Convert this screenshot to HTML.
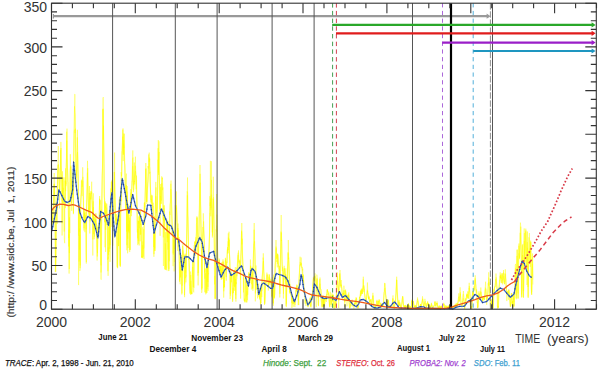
<!DOCTYPE html><html><head><meta charset="utf-8"><style>
html,body{margin:0;padding:0;background:#fff;width:600px;height:372px;overflow:hidden}
svg{display:block}
text{font-family:"Liberation Sans",sans-serif}
</style></head><body>
<svg width="600" height="372" viewBox="0 0 600 372">
<path d="M52.0,230.1 52.3,210.5 52.7,224.4 53.0,214.9 53.4,209.3 53.7,196.1 54.1,192.3 54.4,183.7 54.8,194.0 55.1,208.9 55.5,269.2 55.8,271.6 56.1,235.4 56.5,205.8 56.8,204.7 57.2,223.9 57.5,179.1 57.9,165.8 58.2,164.9 58.6,167.2 58.9,169.1 59.2,188.0 59.6,208.5 59.9,185.9 60.3,172.3 60.6,154.6 61.0,148.0 61.3,173.6 61.7,177.0 62.0,201.3 62.4,190.2 62.7,203.2 63.0,177.1 63.4,188.9 63.7,197.2 64.1,199.5 64.4,203.2 64.8,203.3 65.1,180.5 65.5,191.1 65.8,190.5 66.1,170.3 66.5,157.9 66.8,140.6 67.2,157.9 67.5,168.1 67.9,184.7 68.2,191.8 68.6,238.0 68.9,229.6 69.3,269.0 69.6,200.8 69.9,191.9 70.3,154.2 70.6,168.2 71.0,167.7 71.3,190.4 71.7,210.9 72.0,181.2 72.4,185.3 72.7,185.1 73.0,203.0 73.4,214.2 73.7,156.5 74.1,131.6 74.4,129.7 74.8,130.3 75.1,133.1 75.5,128.7 75.8,156.8 76.2,172.6 76.5,175.9 76.8,168.1 77.2,154.9 77.5,152.1 77.9,162.4 78.2,181.3 78.6,285.1 78.9,203.2 79.3,249.7 79.6,228.6 79.9,270.9 80.3,266.9 80.6,210.1 81.0,195.4 81.3,194.2 81.7,190.8 82.0,186.3 82.4,185.4 82.7,167.3 83.1,184.6 83.4,200.3 83.7,215.0 84.1,219.9 84.4,213.2 84.8,220.1 85.1,211.3 85.5,217.8 85.8,219.2 86.2,229.3 86.5,211.9 86.8,202.4 87.2,180.4 87.5,160.8 87.9,185.6 88.2,199.5 88.6,212.2 88.9,207.8 89.3,214.5 89.6,214.1 90.0,217.6 90.3,197.5 90.6,199.4 91.0,191.4 91.3,194.0 91.7,181.7 92.0,200.3 92.4,210.2 92.7,216.9 93.1,214.8 93.4,207.2 93.7,222.4 94.1,216.9 94.4,236.7 94.8,224.6 95.1,218.8 95.5,228.9 95.8,213.5 96.2,228.1 96.5,223.7 96.9,247.0 97.2,249.6 97.5,253.2 97.9,228.7 98.2,230.9 98.6,235.3 98.9,225.4 99.3,215.4 99.6,196.0 100.0,207.8 100.3,214.0 100.6,237.0 101.0,272.5 101.3,267.1 101.7,205.5 102.0,190.0 102.4,173.9 102.7,150.6 103.1,108.7 103.4,118.5 103.8,150.5 104.1,182.9 104.4,197.4 104.8,222.3 105.1,205.5 105.5,206.8 105.8,208.1 106.2,206.2 106.5,203.5 106.9,203.5 107.2,211.0 107.5,219.9 107.9,271.2 108.2,247.4 108.6,254.9 108.9,221.6 109.3,221.6 109.6,211.0 110.0,261.9 110.3,245.7 110.7,199.3 111.0,193.0 111.3,181.8 111.7,189.7 112.0,206.7 112.4,179.6 112.7,226.7 113.1,215.6 113.4,229.9 113.8,217.7 114.1,198.2 114.4,172.1 114.8,189.4 115.1,200.8 115.5,220.6 115.8,218.8 116.2,220.6 116.5,214.2 116.9,235.6 117.2,266.9 117.6,266.1 117.9,236.6 118.2,228.0 118.6,227.0 118.9,208.3 119.3,199.6 119.6,224.9 120.0,231.9 120.3,267.0 120.7,206.1 121.0,190.1 121.3,179.8 121.7,172.4 122.0,147.6 122.4,142.2 122.7,136.6 123.1,152.5 123.4,153.8 123.8,133.4 124.1,145.4 124.5,163.2 124.8,164.7 125.1,178.8 125.5,193.4 125.8,208.9 126.2,185.3 126.5,198.3 126.9,245.2 127.2,186.1 127.6,253.3 127.9,249.6 128.2,224.1 128.6,230.9 128.9,216.5 129.3,214.8 129.6,225.0 130.0,250.0 130.3,213.9 130.7,206.1 131.0,202.0 131.4,216.2 131.7,188.8 132.0,180.9 132.4,181.3 132.7,166.2 133.1,174.8 133.4,192.2 133.8,189.4 134.1,180.3 134.5,176.1 134.8,176.1 135.1,173.2 135.5,171.2 135.8,180.9 136.2,189.3 136.5,175.6 136.9,201.1 137.2,232.4 137.6,232.3 137.9,229.0 138.3,241.1 138.6,221.1 138.9,223.7 139.3,217.1 139.6,212.9 140.0,219.2 140.3,215.3 140.7,225.0 141.0,224.2 141.4,238.5 141.7,256.7 142.0,257.7 142.4,256.7 142.7,227.2 143.1,256.6 143.4,252.8 143.8,246.4 144.1,226.7 144.5,206.0 144.8,213.2 145.2,200.4 145.5,183.4 145.8,163.0 146.2,176.6 146.5,191.6 146.9,201.9 147.2,196.1 147.6,183.3 147.9,181.6 148.3,176.2 148.6,166.9 148.9,165.6 149.3,157.5 149.6,173.6 150.0,171.8 150.3,188.0 150.7,194.9 151.0,203.5 151.4,196.6 151.7,194.8 152.1,205.9 152.4,195.5 152.7,207.6 153.1,206.4 153.4,221.0 153.8,247.0 154.1,233.8 154.5,216.4 154.8,250.8 155.2,213.7 155.5,197.5 155.8,181.9 156.2,199.0 156.5,213.2 156.9,220.1 157.2,212.0 157.6,195.3 157.9,168.7 158.3,140.0 158.6,174.9 159.0,141.3 159.3,175.5 159.6,183.8 160.0,210.9 160.3,202.4 160.7,184.0 161.0,195.1 161.4,200.6 161.7,176.3 162.1,179.3 162.4,178.2 162.7,189.1 163.1,206.2 163.4,266.0 163.8,216.6 164.1,205.1 164.5,225.2 164.8,238.2 165.2,257.1 165.5,266.9 165.9,266.9 166.2,267.6 166.5,267.4 166.9,219.7 167.2,238.2 167.6,221.8 167.9,221.1 168.3,250.6 168.6,260.2 169.0,270.9 169.3,253.5 169.6,211.5 170.0,215.0 170.3,205.9 170.7,197.2 171.0,180.5 171.4,198.7 171.7,213.7 172.1,222.3 172.4,227.6 172.8,234.7 173.1,266.2 173.4,236.2 173.8,235.5 174.1,271.4 174.5,263.7 174.8,234.3 175.2,222.8 175.5,219.4 175.9,210.5 176.2,208.6 176.5,205.3 176.9,215.0 177.2,231.2 177.6,243.4 177.9,228.1 178.3,238.5 178.6,244.5 179.0,237.3 179.3,268.1 179.7,280.5 180.0,277.2 180.3,266.6 180.7,276.9 181.0,254.8 181.4,268.1 181.7,261.0 182.1,285.7 182.4,255.5 182.8,244.1 183.1,249.2 183.4,250.7 183.8,257.2 184.1,255.2 184.5,295.2 184.8,279.7 185.2,253.6 185.5,274.1 185.9,282.4 186.2,278.5 186.6,240.8 186.9,226.4 187.2,191.4 187.6,193.6 187.9,219.4 188.3,234.7 188.6,259.8 189.0,258.8 189.3,262.8 189.7,288.7 190.0,290.1 190.3,293.0 190.7,275.0 191.0,291.9 191.4,291.6 191.7,294.1 192.1,283.9 192.4,268.3 192.8,259.9 193.1,267.9 193.5,291.4 193.8,292.4 194.1,245.4 194.5,246.4 194.8,249.6 195.2,250.9 195.5,249.5 195.9,237.2 196.2,244.0 196.6,227.1 196.9,216.3 197.2,225.7 197.6,234.6 197.9,275.6 198.3,269.4 198.6,244.4 199.0,231.8 199.3,208.0 199.7,185.4 200.0,165.0 200.4,201.5 200.7,209.0 201.0,231.9 201.4,242.6 201.7,292.9 202.1,290.1 202.4,243.5 202.8,234.2 203.1,229.6 203.5,230.7 203.8,234.1 204.1,240.5 204.5,262.5 204.8,278.7 205.2,273.2 205.5,279.5 205.9,292.6 206.2,289.3 206.6,275.4 206.9,266.1 207.3,272.0 207.6,265.0 207.9,286.9 208.3,273.5 208.6,274.2 209.0,252.5 209.3,247.5 209.7,213.7 210.0,214.1 210.4,160.8 210.7,204.5 211.0,208.1 211.4,161.2 211.7,190.0 212.1,212.5 212.4,237.5 212.8,213.3 213.1,198.9 213.5,200.5 213.8,212.1 214.2,237.2 214.5,284.4 214.8,275.9 215.2,299.0 215.5,267.8 215.9,247.4 216.2,237.5 216.6,225.6 216.9,228.4 217.3,229.8 217.6,250.9 217.9,265.2 218.3,262.9 218.6,262.0 219.0,265.8 219.3,260.3 219.7,273.3 220.0,266.4 220.4,270.7 220.7,266.2 221.1,273.4 221.4,274.6 221.7,265.8 222.1,273.2 222.4,271.9 222.8,267.9 223.1,261.3 223.5,282.8 223.8,291.3 224.2,284.1 224.5,287.1 224.8,270.1 225.2,266.2 225.5,257.8 225.9,265.5 226.2,277.1 226.6,267.4 226.9,258.4 227.3,250.7 227.6,248.8 228.0,252.9 228.3,233.3 228.6,245.8 229.0,231.7 229.3,250.3 229.7,258.1 230.0,268.0 230.4,295.7 230.7,282.5 231.1,272.5 231.4,282.3 231.7,274.1 232.1,282.5 232.4,293.4 232.8,293.5 233.1,288.0 233.5,293.0 233.8,270.2 234.2,286.1 234.5,271.3 234.9,269.8 235.2,271.6 235.5,284.0 235.9,301.6 236.2,281.4 236.6,270.0 236.9,276.2 237.3,264.1 237.6,261.0 238.0,253.8 238.3,252.7 238.6,262.4 239.0,260.7 239.3,259.7 239.7,262.7 240.0,260.4 240.4,265.6 240.7,262.5 241.1,252.9 241.4,237.7 241.8,223.0 242.1,235.4 242.4,254.1 242.8,263.7 243.1,267.3 243.5,292.4 243.8,277.3 244.2,301.0 244.5,299.6 244.9,301.1 245.2,300.5 245.5,297.5 245.9,278.3 246.2,277.7 246.6,302.2 246.9,290.9 247.3,299.9 247.6,300.2 248.0,281.7 248.3,283.6 248.7,275.8 249.0,273.2 249.3,278.6 249.7,280.9 250.0,282.9 250.4,259.5 250.7,266.9 251.1,279.1 251.4,289.4 251.8,288.4 252.1,278.8 252.4,272.4 252.8,288.5 253.1,266.7 253.5,252.0 253.8,250.1 254.2,223.0 254.5,246.2 254.9,250.2 255.2,267.4 255.6,272.3 255.9,273.0 256.2,279.4 256.6,285.3 256.9,284.3 257.3,283.9 257.6,298.4 258.0,283.4 258.3,286.5 258.7,292.5 259.0,296.9 259.3,291.1 259.7,298.7 260.0,289.4 260.4,304.5 260.7,303.2 261.1,296.8 261.4,284.5 261.8,297.1 262.1,280.2 262.5,272.3 262.8,269.6 263.1,257.6 263.5,260.7 263.8,273.2 264.2,278.2 264.5,304.6 264.9,302.6 265.2,293.9 265.6,286.6 265.9,286.4 266.2,279.1 266.6,277.5 266.9,272.6 267.3,277.2 267.6,280.5 268.0,282.0 268.3,290.6 268.7,285.6 269.0,277.4 269.4,275.0 269.7,283.7 270.0,280.7 270.4,282.5 270.7,281.3 271.1,283.1 271.4,287.3 271.8,297.4 272.1,283.3 272.5,281.1 272.8,296.2 273.1,303.5 273.5,298.2 273.8,280.6 274.2,281.5 274.5,298.5 274.9,285.4 275.2,265.1 275.6,260.9 275.9,251.3 276.3,248.3 276.6,259.2 276.9,255.2 277.3,267.4 277.6,254.0 278.0,255.6 278.3,261.9 278.7,266.7 279.0,265.8 279.4,269.3 279.7,270.7 280.0,286.8 280.4,258.8 280.7,251.4 281.1,238.1 281.4,232.6 281.8,243.1 282.1,264.5 282.5,270.9 282.8,272.8 283.2,273.6 283.5,293.8 283.8,270.8 284.2,265.8 284.5,270.7 284.9,275.1 285.2,279.4 285.6,274.5 285.9,286.4 286.3,307.1 286.6,287.5 286.9,276.4 287.3,278.9 287.6,266.8 288.0,260.5 288.3,240.0 288.7,259.4 289.0,266.1 289.4,278.5 289.7,279.5 290.1,289.3 290.4,294.1 290.7,294.0 291.1,295.7 291.4,292.8 291.8,303.1 292.1,296.7 292.5,297.8 292.8,301.2 293.2,306.8 293.5,299.1 293.8,299.9 294.2,300.5 294.5,304.7 294.9,307.0 295.2,301.7 295.6,297.5 295.9,290.9 296.3,289.8 296.6,290.0 297.0,285.3 297.3,289.2 297.6,289.8 298.0,291.4 298.3,300.3 298.7,292.9 299.0,281.0 299.4,272.5 299.7,265.8 300.1,256.7 300.4,266.3 300.7,265.8 301.1,265.1 301.4,262.8 301.8,267.8 302.1,267.2 302.5,270.5 302.8,268.7 303.2,282.2 303.5,275.2 303.9,293.3 304.2,291.0 304.5,289.2 304.9,291.4 305.2,299.4 305.6,302.6 305.9,306.0 306.3,298.8 306.6,300.7 307.0,302.6 307.3,304.6 307.6,305.5 308.0,307.2 308.3,306.6 308.7,304.4 309.0,302.4 309.4,301.1 309.7,303.7 310.1,300.9 310.4,298.7 310.8,305.9 311.1,305.6 311.4,293.5 311.8,298.6 312.1,297.0 312.5,299.6 312.8,284.2 313.2,283.4 313.5,278.6 313.9,278.4 314.2,281.1 314.5,280.1 314.9,275.7 315.2,279.5 315.6,280.5 315.9,282.5 316.3,289.5 316.6,291.1 317.0,278.3 317.3,282.0 317.7,285.0 318.0,298.8 318.3,305.3 318.7,292.1 319.0,291.4 319.4,288.8 319.7,283.5 320.1,283.8 320.4,287.9 320.8,290.6 321.1,294.8 321.4,303.5 321.8,305.0 322.1,306.4 322.5,300.0 322.8,297.9 323.2,303.8 323.5,306.3 323.9,297.2 324.2,305.7 324.6,304.3 324.9,303.3 325.2,295.7 325.6,298.4 325.9,298.3 326.3,297.7 326.6,299.3 327.0,293.2 327.3,289.5 327.7,292.9 328.0,294.2 328.3,295.1 328.7,292.8 329.0,299.6 329.4,302.3 329.7,305.2 330.1,301.1 330.4,295.6 330.8,300.0 331.1,304.6 331.5,302.3 331.8,296.4 332.1,293.2 332.5,302.5 332.8,295.0 333.2,294.6 333.5,300.3 333.9,308.1 334.2,307.1 334.6,305.9 334.9,300.8 335.2,303.9 335.6,306.8 335.9,305.3 336.3,297.7 336.6,291.4 337.0,283.3 337.3,283.2 337.7,281.3 338.0,284.1 338.4,288.5 338.7,308.0 339.0,287.6 339.4,284.7 339.7,274.2 340.1,277.4 340.4,279.7 340.8,286.3 341.1,284.4 341.5,287.2 341.8,289.6 342.1,293.1 342.5,295.1 342.8,296.1 343.2,293.0 343.5,294.7 343.9,285.7 344.2,289.3 344.6,296.0 344.9,301.4 345.3,297.7 345.6,289.5 345.9,293.3 346.3,300.9 346.6,294.8 347.0,306.4 347.3,299.3 347.7,295.1 348.0,297.2 348.4,296.1 348.7,298.5 349.0,300.7 349.4,306.3 349.7,307.6 350.1,308.2 350.4,305.1 350.8,302.5 351.1,301.2 351.5,301.6 351.8,301.9 352.2,299.5 352.5,304.4 352.8,306.6 353.2,305.2 353.5,305.2 353.9,308.8 354.2,306.3 354.6,302.5 354.9,302.6 355.3,302.1 355.6,303.9 355.9,297.5 356.3,298.8 356.6,298.4 357.0,306.7 357.3,307.0 357.7,308.1 358.0,308.1 358.4,305.7 358.7,304.0 359.1,300.6 359.4,301.2 359.7,297.3 360.1,297.3 360.4,290.8 360.8,293.5 361.1,291.2 361.5,294.5 361.8,294.1 362.2,290.2 362.5,291.2 362.8,288.7 363.2,279.4 363.5,284.5 363.9,291.9 364.2,288.7 364.6,295.1 364.9,297.9 365.3,299.1 365.6,299.8 366.0,298.8 366.3,304.3 366.6,296.0 367.0,292.8 367.3,289.8 367.7,292.7 368.0,293.0 368.4,298.0 368.7,298.6 369.1,297.4 369.4,301.5 369.7,302.3 370.1,301.9 370.4,299.6 370.8,299.1 371.1,301.8 371.5,306.6 371.8,305.8 372.2,301.2 372.5,297.6 372.9,292.8 373.2,298.0 373.5,302.4 373.9,306.1 374.2,306.2 374.6,306.9 374.9,306.5 375.3,305.7 375.6,308.1 376.0,307.7 376.3,304.5 376.6,304.0 377.0,299.8 377.3,302.7 377.7,305.6 378.0,304.1 378.4,301.3 378.7,302.3 379.1,300.6 379.4,301.7 379.8,302.2 380.1,307.1 380.4,305.4 380.8,302.9 381.1,306.2 381.5,307.4 381.8,306.4 382.2,305.1 382.5,306.0 382.9,303.5 383.2,305.9 383.5,301.2 383.9,295.0 384.2,292.3 384.6,282.9 384.9,287.2 385.3,287.7 385.6,294.0 386.0,297.6 386.3,299.7 386.7,301.1 387.0,302.4 387.3,304.4 387.7,303.9 388.0,300.5 388.4,299.9 388.7,306.1 389.1,306.4 389.4,306.2 389.8,308.0 390.1,307.1 390.4,305.6 390.8,305.7 391.1,306.4 391.5,306.7 391.8,305.9 392.2,303.6 392.5,303.3 392.9,298.0 393.2,303.0 393.6,306.0 393.9,305.8 394.2,306.0 394.6,304.7 394.9,300.6 395.3,302.0 395.6,300.9 396.0,292.9 396.3,286.2 396.7,276.7 397.0,287.1 397.3,292.9 397.7,301.0 398.0,303.6 398.4,306.3 398.7,302.1 399.1,302.0 399.4,304.5 399.8,306.1 400.1,304.8 400.5,307.4 400.8,306.0 401.1,306.3 401.5,305.7 401.8,304.2 402.2,302.4 402.5,296.0 402.9,297.3 403.2,303.6 403.6,305.3 403.9,306.0 404.2,306.4 404.6,305.8 404.9,308.8 405.3,305.8 405.6,307.4 406.0,306.4 406.3,308.4 406.7,306.7 407.0,307.0 407.4,306.2 407.7,305.1 408.0,307.4 408.4,303.1 408.7,305.9 409.1,308.7 409.4,305.5 409.8,305.9 410.1,307.2 410.5,307.3 410.8,308.8 411.1,307.7 411.5,305.3 411.8,300.4 412.2,305.7 412.5,304.7 412.9,301.7 413.2,301.4 413.6,303.3 413.9,306.4 414.3,306.8 414.6,306.1 414.9,305.8 415.3,308.1 415.6,305.6 416.0,306.0 416.3,307.9 416.7,304.9 417.0,302.3 417.4,302.1 417.7,300.8 418.0,301.6 418.4,303.8 418.7,306.6 419.1,308.1 419.4,307.0 419.8,308.2 420.1,307.0 420.5,304.1 420.8,306.3 421.2,307.1 421.5,306.0 421.8,303.1 422.2,300.9 422.5,296.3 422.9,300.1 423.2,303.2 423.6,305.6 423.9,306.8 424.3,304.8 424.6,301.8 424.9,298.8 425.3,301.4 425.6,304.4 426.0,306.8 426.3,307.9 426.7,304.9 427.0,303.9 427.4,302.3 427.7,303.6 428.1,303.9 428.4,304.7 428.7,304.1 429.1,306.6 429.4,306.3 429.8,308.0 430.1,308.4 430.5,306.3 430.8,307.6 431.2,305.5 431.5,303.5 431.8,306.2 432.2,306.7 432.5,307.1 432.9,307.4 433.2,307.5 433.6,307.8 433.9,305.6 434.3,305.5 434.6,304.7 435.0,301.0 435.3,303.4 435.6,306.0 436.0,307.3 436.3,304.5 436.7,303.9 437.0,303.2 437.4,304.4 437.7,307.3 438.1,306.3 438.4,307.3 438.7,306.8 439.1,307.6 439.4,308.6 439.8,305.6 440.1,306.4 440.5,308.7 440.8,308.9 441.2,305.8 441.5,305.7 441.9,307.1 442.2,306.8 442.5,306.1 442.9,306.5 443.2,305.8 443.6,304.5 443.9,304.5 444.3,306.5 444.6,306.0 445.0,305.5 445.3,307.7 445.6,305.8 446.0,305.8 446.3,306.6 446.7,306.9 447.0,307.8 447.4,307.2 447.7,308.9 448.1,305.7 448.4,305.8 448.8,308.1 449.1,305.7 449.4,308.9 449.8,308.8 450.1,304.7 450.5,304.8 450.8,306.0 451.2,307.2 451.5,307.1 451.9,306.9 452.2,307.5 452.5,308.7 452.9,308.8 453.2,306.4 453.6,306.0 453.9,306.0 454.3,308.5 454.6,305.0 455.0,306.9 455.3,306.9 455.7,305.2 456.0,304.3 456.3,306.6 456.7,306.5 457.0,302.8 457.4,305.3 457.7,305.8 458.1,301.2 458.4,299.3 458.8,293.3 459.1,300.4 459.4,301.2 459.8,296.2 460.1,287.3 460.5,296.0 460.8,299.5 461.2,305.1 461.5,306.5 461.9,307.6 462.2,306.8 462.6,301.1 462.9,300.7 463.2,298.3 463.6,298.8 463.9,301.6 464.3,303.3 464.6,308.7 465.0,305.6 465.3,305.3 465.7,299.5 466.0,301.4 466.3,298.0 466.7,293.6 467.0,295.8 467.4,294.6 467.7,294.5 468.1,298.5 468.4,294.8 468.8,290.7 469.1,287.9 469.5,289.5 469.8,292.3 470.1,296.8 470.5,306.8 470.8,306.3 471.2,306.6 471.5,308.4 471.9,308.4 472.2,297.1 472.6,290.9 472.9,295.5 473.2,299.1 473.6,291.2 473.9,287.9 474.3,290.0 474.6,284.9 475.0,278.2 475.3,278.7 475.7,285.1 476.0,289.3 476.4,290.9 476.7,291.2 477.0,297.6 477.4,301.4 477.7,307.4 478.1,307.3 478.4,297.0 478.8,296.1 479.1,294.8 479.5,293.7 479.8,297.7 480.1,294.7 480.5,293.9 480.8,287.5 481.2,294.6 481.5,296.5 481.9,297.1 482.2,296.6 482.6,301.8 482.9,300.8 483.3,298.4 483.6,297.7 483.9,299.7 484.3,299.8 484.6,298.5 485.0,294.9 485.3,287.6 485.7,288.5 486.0,289.7 486.4,295.3 486.7,304.9 487.0,298.7 487.4,297.5 487.7,294.9 488.1,288.5 488.4,284.8 488.8,277.5 489.1,281.9 489.5,286.3 489.8,293.8 490.2,299.0 490.5,306.2 490.8,306.9 491.2,302.3 491.5,305.9 491.9,300.9 492.2,306.6 492.6,307.4 492.9,308.5 493.3,306.3 493.6,300.1 493.9,290.6 494.3,291.1 494.6,286.8 495.0,286.6 495.3,287.1 495.7,279.5 496.0,273.5 496.4,280.3 496.7,284.8 497.1,288.5 497.4,307.2 497.7,307.1 498.1,306.7 498.4,308.1 498.8,299.0 499.1,287.2 499.5,284.1 499.8,279.1 500.2,272.3 500.5,278.2 500.8,276.9 501.2,278.2 501.5,278.9 501.9,274.7 502.2,273.4 502.6,284.4 502.9,281.8 503.3,275.4 503.6,270.0 504.0,281.1 504.3,282.0 504.6,282.2 505.0,277.8 505.3,269.3 505.7,275.6 506.0,283.8 506.4,289.5 506.7,293.4 507.1,291.4 507.4,291.3 507.7,291.7 508.1,296.4 508.4,299.8 508.8,289.3 509.1,295.2 509.5,295.5 509.8,296.3 510.2,303.4 510.5,305.7 510.9,303.2 511.2,297.2 511.5,295.2 511.9,298.3 512.2,303.8 512.6,301.0 512.9,307.3 513.3,299.3 513.6,295.0 514.0,302.2 514.3,296.3 514.6,291.8 515.0,285.7 515.3,270.6 515.7,267.8 516.0,292.7 516.4,295.5 516.7,273.9 517.1,250.0 517.4,253.2 517.8,286.4 518.1,298.5 518.4,264.5 518.8,253.4 519.1,254.7 519.5,258.3 519.8,245.3 520.2,232.8 520.5,239.8 520.9,247.6 521.2,251.8 521.5,294.5 521.9,292.4 522.2,257.7 522.6,255.1 522.9,257.5 523.3,291.1 523.6,291.0 524.0,260.4 524.3,240.9 524.7,268.7 525.0,258.3 525.3,248.1 525.7,231.5 526.0,237.3 526.4,246.8 526.7,262.3 527.1,269.2 527.4,247.8 527.8,253.4 528.1,296.8 528.4,266.8 528.8,261.8 529.1,252.9 529.5,253.6 529.8,248.5 530.2,263.8 530.5,250.9 530.9,242.2 531.2,277.1 531.6,294.5 531.9,285.3 532.2,269.7 532.6,257.2 532.9,284.5" fill="none" stroke="#ffff00" stroke-opacity="0.45" stroke-width="0.85" stroke-linejoin="bevel"/>
<path d="M52.1,229.4 52.5,216.4 52.8,219.8 53.2,215.9 53.5,204.6 53.8,190.0 54.2,173.0 54.5,193.9 54.9,206.9 55.2,216.3 55.6,267.3 55.9,254.5 56.3,219.5 56.6,219.4 56.9,193.8 57.3,190.0 57.6,182.0 58.0,160.5 58.3,146.0 58.7,162.7 59.0,179.3 59.4,190.1 59.7,190.6 60.1,183.3 60.4,171.7 60.7,150.1 61.1,162.8 61.4,174.3 61.8,175.2 62.1,235.5 62.5,171.3 62.8,192.5 63.2,187.8 63.5,192.6 63.8,194.8 64.2,231.6 64.5,207.9 64.9,196.9 65.2,188.1 65.6,168.3 65.9,186.2 66.3,164.5 66.6,153.3 67.0,128.6 67.3,168.2 67.6,169.4 68.0,177.6 68.3,200.2 68.7,246.5 69.0,234.1 69.4,253.1 69.7,216.8 70.1,186.0 70.4,168.3 70.7,166.7 71.1,169.8 71.4,203.7 71.8,192.2 72.1,179.1 72.5,187.3 72.8,182.0 73.2,171.0 73.5,213.2 73.9,153.7 74.2,132.1 74.5,106.3 74.9,112.4 75.2,114.2 75.6,135.1 75.9,160.4 76.3,168.8 76.6,177.7 77.0,153.3 77.3,137.4 77.6,147.7 78.0,173.7 78.3,183.5 78.7,235.7 79.0,207.4 79.4,231.8 79.7,211.6 80.1,268.1 80.4,233.3 80.8,205.0 81.1,189.8 81.4,180.7 81.8,190.0 82.1,196.1 82.5,189.0 82.8,180.7 83.2,188.0 83.5,206.9 83.9,230.5 84.2,222.5 84.5,212.4 84.9,232.2 85.2,214.9 85.6,215.8 85.9,252.7 86.3,263.6 86.6,206.4 87.0,199.0 87.3,185.1 87.7,168.2 88.0,182.7 88.3,192.4 88.7,213.5 89.0,208.2 89.4,192.9 89.7,215.9 90.1,221.3 90.4,193.3 90.8,199.5 91.1,198.5 91.4,194.9 91.8,192.3 92.1,198.2 92.5,212.5 92.8,255.5 93.2,201.3 93.5,234.3 93.9,215.1 94.2,239.3 94.6,228.3 94.9,222.8 95.2,216.7 95.6,215.8 95.9,213.5 96.3,228.1 96.6,237.5 97.0,227.3 97.3,256.5 97.7,245.2 98.0,227.5 98.3,226.5 98.7,234.4 99.0,225.0 99.4,207.8 99.7,199.3 100.1,200.1 100.4,213.3 100.8,263.0 101.1,265.4 101.5,209.6 101.8,213.4 102.1,175.8 102.5,167.8 102.8,109.3 103.2,139.7 103.5,125.6 103.9,159.0 104.2,195.2 104.6,202.0 104.9,222.0 105.2,201.4 105.6,251.9 105.9,215.9 106.3,225.1 106.6,204.4 107.0,218.9 107.3,224.6 107.7,259.8 108.0,257.6 108.4,258.5 108.7,256.1 109.0,228.0 109.4,211.9 109.7,228.9 110.1,245.2 110.4,220.7 110.8,188.6 111.1,188.4 111.5,195.6 111.8,191.2 112.1,188.6 112.5,200.2 112.8,245.7 113.2,217.4 113.5,227.2 113.9,205.9 114.2,192.8 114.6,152.5 114.9,189.1 115.3,205.8 115.6,223.0 115.9,224.5 116.3,217.6 116.6,228.5 117.0,248.2 117.3,267.0 117.7,267.6 118.0,215.9 118.4,230.7 118.7,246.1 119.0,243.3 119.4,207.0 119.7,215.5 120.1,265.6 120.4,223.1 120.8,200.6 121.1,172.1 121.5,176.2 121.8,151.7 122.2,150.6 122.5,145.8 122.8,129.7 123.2,161.1 123.5,143.6 123.9,148.1 124.2,133.8 124.6,161.0 124.9,168.7 125.3,184.7 125.6,195.2 125.9,199.9 126.3,185.0 126.6,231.6 127.0,197.9 127.3,191.6 127.7,238.8 128.0,225.0 128.4,204.2 128.7,215.6 129.1,233.2 129.4,220.4 129.7,252.1 130.1,232.4 130.4,217.5 130.8,189.1 131.1,201.4 131.5,192.4 131.8,186.4 132.2,174.1 132.5,158.8 132.8,150.4 133.2,171.8 133.5,190.2 133.9,185.3 134.2,180.8 134.6,182.0 134.9,176.4 135.3,165.7 135.6,170.3 136.0,176.6 136.3,194.3 136.6,196.9 137.0,204.1 137.3,216.0 137.7,238.3 138.0,220.6 138.4,243.8 138.7,216.5 139.1,219.0 139.4,228.3 139.7,211.4 140.1,241.3 140.4,228.3 140.8,234.4 141.1,215.6 141.5,257.7 141.8,256.4 142.2,256.0 142.5,258.2 142.9,241.5 143.2,245.1 143.5,248.8 143.9,247.9 144.2,209.0 144.6,202.4 144.9,207.0 145.3,190.6 145.6,180.9 146.0,168.4 146.3,182.4 146.6,201.9 147.0,197.7 147.3,189.1 147.7,185.9 148.0,166.0 148.4,168.5 148.7,154.4 149.1,161.8 149.4,161.3 149.8,158.7 150.1,181.6 150.4,185.9 150.8,197.4 151.1,202.1 151.5,198.9 151.8,204.2 152.2,206.4 152.5,205.5 152.9,205.9 153.2,202.7 153.5,234.8 153.9,256.8 154.2,228.5 154.6,225.1 154.9,251.0 155.3,225.6 155.6,195.1 156.0,187.4 156.3,213.1 156.7,211.7 157.0,209.5 157.3,208.3 157.7,179.0 158.0,159.7 158.4,172.4 158.7,160.9 159.1,151.9 159.4,177.4 159.8,202.3 160.1,235.8 160.4,195.9 160.8,198.7 161.1,203.7 161.5,188.4 161.8,183.2 162.2,185.5 162.5,190.1 162.9,187.5 163.2,219.1 163.6,220.5 163.9,205.8 164.2,222.2 164.6,215.4 164.9,269.0 165.3,243.4 165.6,267.7 166.0,269.4 166.3,268.3 166.7,268.1 167.0,222.9 167.3,242.1 167.7,223.6 168.0,249.7 168.4,233.1 168.7,268.6 169.1,269.0 169.4,236.9 169.8,221.6 170.1,207.3 170.5,195.2 170.8,183.8 171.1,191.4 171.5,197.3 171.8,212.1 172.2,233.0 172.5,227.3 172.9,229.4 173.2,253.2 173.6,238.6 173.9,235.7 174.2,236.0 174.6,249.1 174.9,229.6 175.3,205.3 175.6,224.8 176.0,213.7 176.3,191.4 176.7,213.0 177.0,222.4 177.4,235.9 177.7,250.8 178.0,223.5 178.4,242.3 178.7,248.4 179.1,248.8 179.4,262.1 179.8,264.0 180.1,284.3 180.5,253.8 180.8,255.9 181.1,254.9 181.5,264.7 181.8,294.5 182.2,269.5 182.5,250.3 182.9,253.3 183.2,253.5 183.6,254.2 183.9,256.0 184.3,275.1 184.6,297.2 184.9,277.8 185.3,265.7 185.6,278.2 186.0,275.6 186.3,276.3 186.7,232.5 187.0,223.3 187.4,195.3 187.7,215.1 188.0,218.0 188.4,242.8 188.7,256.1 189.1,267.2 189.4,285.3 189.8,286.1 190.1,292.8 190.5,294.7 190.8,280.9 191.2,294.3 191.5,292.8 191.8,294.2 192.2,275.3 192.5,272.6 192.9,262.3 193.2,279.5 193.6,280.3 193.9,287.9 194.3,249.5 194.6,241.6 194.9,244.8 195.3,256.0 195.6,244.5 196.0,239.1 196.3,235.2 196.7,229.8 197.0,218.0 197.4,224.3 197.7,236.4 198.1,285.4 198.4,272.4 198.7,235.6 199.1,221.9 199.4,208.8 199.8,190.7 200.1,173.8 200.5,193.1 200.8,218.9 201.2,235.2 201.5,259.0 201.8,267.9 202.2,288.4 202.5,240.0 202.9,227.0 203.2,229.7 203.6,221.4 203.9,235.0 204.3,244.2 204.6,272.5 205.0,268.3 205.3,275.1 205.6,294.2 206.0,294.4 206.3,293.4 206.7,266.6 207.0,292.9 207.4,262.2 207.7,262.4 208.1,290.8 208.4,255.9 208.7,250.9 209.1,242.8 209.4,237.0 209.8,222.9 210.1,202.9 210.5,202.1 210.8,216.3 211.2,204.9 211.5,179.9 211.9,214.8 212.2,224.0 212.5,235.6 212.9,213.2 213.2,197.9 213.6,197.3 213.9,212.6 214.3,237.5 214.6,264.6 215.0,298.1 215.3,298.0 215.6,259.6 216.0,236.7 216.3,219.9 216.7,194.0 217.0,232.3 217.4,235.4 217.7,259.7 218.1,264.8 218.4,268.5 218.8,263.6 219.1,258.5 219.4,260.9 219.8,272.5 220.1,266.0 220.5,268.3 220.8,273.0 221.2,271.3 221.5,279.3 221.9,262.2 222.2,279.1 222.5,271.3 222.9,265.7 223.2,261.9 223.6,288.0 223.9,277.2 224.3,287.4 224.6,279.7 225.0,266.3 225.3,258.6 225.7,259.1 226.0,271.1 226.3,280.7 226.7,262.1 227.0,262.5 227.4,249.2 227.7,247.9 228.1,243.3 228.4,237.5 228.8,246.5 229.1,238.6 229.4,252.9 229.8,260.1 230.1,299.1 230.5,289.1 230.8,271.1 231.2,271.6 231.5,275.1 231.9,274.2 232.2,278.9 232.6,302.0 232.9,293.6 233.2,289.0 233.6,275.6 233.9,279.0 234.3,279.9 234.6,287.2 235.0,285.3 235.3,267.1 235.7,295.2 236.0,282.0 236.3,284.2 236.7,279.2 237.0,279.1 237.4,266.7 237.7,259.7 238.1,255.1 238.4,255.5 238.8,267.8 239.1,265.0 239.5,263.7 239.8,264.1 240.1,266.9 240.5,279.9 240.8,258.3 241.2,246.6 241.5,231.6 241.9,244.4 242.2,238.7 242.6,255.2 242.9,267.0 243.2,267.8 243.6,279.5 243.9,282.4 244.3,292.9 244.6,302.0 245.0,302.1 245.3,301.9 245.7,296.5 246.0,278.2 246.4,285.6 246.7,296.3 247.0,290.3 247.4,285.6 247.7,294.8 248.1,283.8 248.4,280.5 248.8,272.1 249.1,277.4 249.5,283.8 249.8,279.8 250.1,280.8 250.5,266.2 250.8,271.2 251.2,279.4 251.5,284.3 251.9,280.0 252.2,266.7 252.6,275.7 252.9,290.8 253.3,263.4 253.6,247.0 253.9,243.6 254.3,243.3 254.6,241.3 255.0,256.4 255.3,301.4 255.7,282.5 256.0,265.5 256.4,275.8 256.7,283.6 257.0,281.8 257.4,284.1 257.7,287.2 258.1,287.5 258.4,286.4 258.8,292.8 259.1,292.0 259.5,297.7 259.8,293.6 260.2,289.0 260.5,303.5 260.8,302.6 261.2,303.1 261.5,285.8 261.9,291.1 262.2,277.1 262.6,274.0 262.9,269.2 263.3,253.3 263.6,266.2 263.9,275.4 264.3,281.2 264.6,304.4 265.0,302.7 265.3,289.6 265.7,282.0 266.0,283.7 266.4,282.4 266.7,278.0 267.1,274.8 267.4,275.0 267.7,281.5 268.1,281.3 268.4,287.8 268.8,277.3 269.1,276.6 269.5,282.6 269.8,277.6 270.2,282.3 270.5,282.9 270.8,279.1 271.2,284.6 271.5,283.2 271.9,296.1 272.2,279.9 272.6,281.8 272.9,290.3 273.3,305.8 273.6,279.8 274.0,297.7 274.3,295.4 274.6,294.7 275.0,271.1 275.3,264.0 275.7,252.9 276.0,240.0 276.4,259.2 276.7,261.9 277.1,260.2 277.4,263.9 277.7,254.5 278.1,259.9 278.4,265.1 278.8,274.9 279.1,273.7 279.5,268.8 279.8,297.5 280.2,271.1 280.5,256.9 280.9,232.8 281.2,215.0 281.5,241.2 281.9,258.9 282.2,263.6 282.6,269.0 282.9,284.5 283.3,287.8 283.6,277.0 284.0,270.3 284.3,268.5 284.6,273.8 285.0,274.7 285.3,283.9 285.7,274.5 286.0,296.1 286.4,303.7 286.7,294.6 287.1,277.8 287.4,272.7 287.8,263.0 288.1,252.2 288.4,259.1 288.8,257.7 289.1,268.6 289.5,293.4 289.8,285.6 290.2,284.4 290.5,287.9 290.9,289.6 291.2,292.6 291.5,298.0 291.9,308.0 292.2,293.9 292.6,298.7 292.9,303.5 293.3,303.4 293.6,302.2 294.0,300.9 294.3,303.6 294.7,303.4 295.0,305.0 295.3,303.8 295.7,296.8 296.0,289.7 296.4,291.8 296.7,286.6 297.1,285.8 297.4,290.8 297.8,290.8 298.1,292.0 298.4,300.5 298.8,305.0 299.1,279.5 299.5,273.9 299.8,264.9 300.2,264.7 300.5,265.0 300.9,262.9 301.2,257.5 301.6,266.9 301.9,266.9 302.2,270.4 302.6,279.7 302.9,277.9 303.3,282.0 303.6,280.4 304.0,289.1 304.3,290.6 304.7,289.8 305.0,303.7 305.3,300.0 305.7,302.0 306.0,301.8 306.4,299.6 306.7,299.0 307.1,299.7 307.4,304.3 307.8,306.7 308.1,306.4 308.5,305.7 308.8,302.3 309.1,301.6 309.5,302.9 309.8,302.2 310.2,297.8 310.5,306.1 310.9,307.4 311.2,301.2 311.6,295.6 311.9,296.5 312.2,297.1 312.6,294.7 312.9,281.7 313.3,277.3 313.6,279.4 314.0,276.6 314.3,276.0 314.7,278.1 315.0,273.3 315.4,279.8 315.7,280.8 316.0,284.1 316.4,285.6 316.7,280.8 317.1,278.8 317.4,285.0 317.8,287.1 318.1,292.9 318.5,306.2 318.8,295.5 319.1,288.7 319.5,288.3 319.8,279.1 320.2,286.0 320.5,288.5 320.9,289.9 321.2,301.2 321.6,300.7 321.9,307.6 322.3,307.3 322.6,303.5 322.9,295.8 323.3,306.9 323.6,297.8 324.0,301.0 324.3,306.2 324.7,302.5 325.0,301.8 325.4,296.6 325.7,297.3 326.0,300.0 326.4,301.9 326.7,294.1 327.1,295.4 327.4,289.3 327.8,291.7 328.1,291.7 328.5,293.0 328.8,294.9 329.2,297.9 329.5,306.6 329.8,302.1 330.2,295.5 330.5,298.1 330.9,298.9 331.2,304.6 331.6,303.1 331.9,297.4 332.3,295.2 332.6,299.5 332.9,294.9 333.3,297.4 333.6,307.1 334.0,307.6 334.3,308.8 334.7,306.7 335.0,301.9 335.4,301.7 335.7,307.9 336.1,303.5 336.4,293.7 336.7,289.3 337.1,282.1 337.4,275.9 337.8,279.5 338.1,284.2 338.5,291.9 338.8,300.7 339.2,287.9 339.5,284.6 339.8,273.1 340.2,281.0 340.5,285.3 340.9,287.7 341.2,280.0 341.6,286.5 341.9,288.9 342.3,294.0 342.6,296.7 343.0,297.2 343.3,293.2 343.6,294.8 344.0,290.2 344.3,292.6 344.7,307.0 345.0,300.9 345.4,290.4 345.7,291.9 346.1,294.2 346.4,298.3 346.7,296.9 347.1,301.2 347.4,295.7 347.8,296.7 348.1,296.8 348.5,298.1 348.8,292.3 349.2,302.7 349.5,305.8 349.9,307.4 350.2,306.7 350.5,305.6 350.9,306.5 351.2,301.6 351.6,304.4 351.9,301.8 352.3,304.0 352.6,304.1 353.0,304.8 353.3,305.5 353.6,305.7 354.0,306.4 354.3,302.9 354.7,303.9 355.0,303.5 355.4,299.5 355.7,304.3 356.1,298.9 356.4,297.6 356.8,300.5 357.1,306.6 357.4,307.0 357.8,306.1 358.1,308.5 358.5,304.7 358.8,301.6 359.2,303.5 359.5,296.8 359.9,298.7 360.2,298.8 360.5,292.9 360.9,296.0 361.2,289.8 361.6,292.4 361.9,288.9 362.3,292.6 362.6,293.7 363.0,288.8 363.3,276.7 363.7,288.7 364.0,286.4 364.3,293.2 364.7,293.8 365.0,295.5 365.4,298.9 365.7,299.8 366.1,301.9 366.4,299.5 366.8,297.2 367.1,292.7 367.4,282.5 367.8,292.4 368.1,294.8 368.5,298.8 368.8,296.0 369.2,295.9 369.5,302.6 369.9,303.4 370.2,302.6 370.6,300.3 370.9,299.9 371.2,302.1 371.6,307.4 371.9,305.0 372.3,300.4 372.6,295.9 373.0,295.9 373.3,297.8 373.7,303.9 374.0,308.6 374.3,308.0 374.7,308.0 375.0,308.7 375.4,306.7 375.7,306.0 376.1,306.8 376.4,304.3 376.8,303.9 377.1,300.9 377.5,304.9 377.8,306.4 378.1,306.0 378.5,303.5 378.8,300.1 379.2,299.1 379.5,302.5 379.9,305.0 380.2,307.6 380.6,305.0 380.9,303.3 381.2,307.5 381.6,306.5 381.9,305.9 382.3,306.2 382.6,305.0 383.0,305.2 383.3,305.5 383.7,299.3 384.0,295.9 384.4,291.8 384.7,288.8 385.0,283.3 385.4,294.6 385.7,295.5 386.1,297.7 386.4,301.5 386.8,301.6 387.1,305.9 387.5,306.2 387.8,301.9 388.1,300.8 388.5,301.0 388.8,307.7 389.2,306.4 389.5,305.3 389.9,305.7 390.2,307.1 390.6,306.4 390.9,307.1 391.3,306.2 391.6,305.7 391.9,306.4 392.3,304.3 392.6,300.5 393.0,295.4 393.3,306.9 393.7,308.1 394.0,307.3 394.4,309.0 394.7,304.0 395.0,300.5 395.4,300.9 395.7,298.1 396.1,289.5 396.4,286.1 396.8,280.0 397.1,291.6 397.5,294.2 397.8,300.5 398.2,304.7 398.5,306.8 398.8,300.7 399.2,305.0 399.5,304.9 399.9,302.3 400.2,304.9 400.6,306.6 400.9,307.2 401.3,306.9 401.6,306.1 401.9,301.9 402.3,298.5 402.6,297.2 403.0,298.9 403.3,303.1 403.7,306.6 404.0,305.5 404.4,308.0 404.7,306.7 405.1,305.6 405.4,307.3 405.7,304.9 406.1,307.0 406.4,307.6 406.8,305.6 407.1,308.8 407.5,306.1 407.8,305.8 408.2,307.6 408.5,304.4 408.8,305.9 409.2,305.8 409.5,306.7 409.9,307.9 410.2,306.4 410.6,306.2 410.9,307.2 411.3,308.3 411.6,303.5 412.0,299.6 412.3,305.4 412.6,306.0 413.0,301.6 413.3,300.8 413.7,303.7 414.0,306.9 414.4,307.8 414.7,305.8 415.1,304.9 415.4,307.3 415.7,305.9 416.1,308.3 416.4,307.2 416.8,304.9 417.1,303.0 417.5,297.5 417.8,299.8 418.2,302.2 418.5,304.7 418.9,306.8 419.2,306.9 419.5,306.6 419.9,307.8 420.2,306.6 420.6,303.9 420.9,307.3 421.3,306.3 421.6,304.5 422.0,303.3 422.3,301.0 422.6,298.6 423.0,302.6 423.3,304.7 423.7,306.4 424.0,306.4 424.4,304.1 424.7,302.6 425.1,303.0 425.4,304.2 425.8,304.9 426.1,306.7 426.4,307.1 426.8,303.9 427.1,303.0 427.5,302.7 427.8,302.6 428.2,305.7 428.5,303.2 428.9,305.9 429.2,307.8 429.5,305.6 429.9,306.9 430.2,308.2 430.6,307.5 430.9,305.8 431.3,304.7 431.6,304.6 432.0,307.2 432.3,307.0 432.7,307.1 433.0,307.7 433.3,308.4 433.7,307.2 434.0,305.5 434.4,305.6 434.7,304.4 435.1,301.9 435.4,304.2 435.8,305.8 436.1,304.8 436.4,302.8 436.8,304.9 437.1,301.4 437.5,305.7 437.8,305.9 438.2,308.5 438.5,308.5 438.9,307.3 439.2,305.5 439.6,307.3 439.9,307.9 440.2,308.6 440.6,308.7 440.9,306.3 441.3,308.0 441.6,307.3 442.0,306.1 442.3,308.3 442.7,306.2 443.0,306.0 443.3,304.0 443.7,302.8 444.0,304.7 444.4,306.4 444.7,306.5 445.1,308.5 445.4,308.9 445.8,305.5 446.1,308.2 446.5,308.0 446.8,305.6 447.1,307.0 447.5,307.1 447.8,307.9 448.2,305.8 448.5,306.3 448.9,308.3 449.2,307.9 449.6,307.2 449.9,305.5 450.2,304.6 450.6,303.5 450.9,306.1 451.3,307.9 451.6,307.1 452.0,306.4 452.3,306.4 452.7,305.9 453.0,308.2 453.4,308.6 453.7,305.7 454.0,307.7 454.4,307.3 454.7,305.5 455.1,304.4 455.4,307.1 455.8,304.3 456.1,303.2 456.5,307.0 456.8,305.4 457.1,305.2 457.5,306.4 457.8,303.6 458.2,301.7 458.5,300.0 458.9,299.5 459.2,298.4 459.6,296.7 459.9,296.9 460.3,292.3 460.6,296.3 460.9,302.5 461.3,305.5 461.6,306.0 462.0,305.8 462.3,304.9 462.7,300.5 463.0,295.6 463.4,291.0 463.7,295.5 464.0,300.0 464.4,305.4 464.7,308.6 465.1,306.6 465.4,301.4 465.8,298.6 466.1,299.6 466.5,296.6 466.8,295.0 467.2,296.9 467.5,294.5 467.8,295.4 468.2,299.0 468.5,293.5 468.9,290.4 469.2,282.8 469.6,293.0 469.9,294.6 470.3,299.3 470.6,308.1 470.9,308.4 471.3,306.2 471.6,307.4 472.0,308.3 472.3,295.3 472.7,292.6 473.0,295.0 473.4,294.6 473.7,289.7 474.1,290.9 474.4,288.1 474.7,285.7 475.1,279.6 475.4,283.4 475.8,284.9 476.1,290.9 476.5,292.5 476.8,294.3 477.2,302.7 477.5,301.8 477.8,307.7 478.2,304.5 478.5,300.1 478.9,292.8 479.2,296.1 479.6,297.8 479.9,296.8 480.3,293.8 480.6,291.4 481.0,292.4 481.3,292.2 481.6,296.8 482.0,298.5 482.3,297.0 482.7,300.9 483.0,298.9 483.4,298.5 483.7,296.8 484.1,298.2 484.4,299.2 484.7,295.0 485.1,290.5 485.4,288.9 485.8,288.8 486.1,295.3 486.5,297.4 486.8,297.5 487.2,298.9 487.5,296.8 487.9,292.9 488.2,283.2 488.5,285.6 488.9,281.9 489.2,284.7 489.6,290.5 489.9,296.4 490.3,303.8 490.6,308.7 491.0,305.6 491.3,306.5 491.6,300.8 492.0,299.3 492.3,307.6 492.7,306.8 493.0,307.6 493.4,307.9 493.7,292.3 494.1,291.1 494.4,289.2 494.8,286.3 495.1,283.9 495.4,282.4 495.8,279.0 496.1,280.7 496.5,281.7 496.8,286.4 497.2,288.7 497.5,305.8 497.9,306.2 498.2,307.2 498.5,302.0 498.9,289.3 499.2,284.6 499.6,279.9 499.9,280.3 500.3,279.7 500.6,275.3 501.0,279.7 501.3,282.7 501.7,277.6 502.0,275.5 502.3,274.7 502.7,280.5 503.0,279.6 503.4,279.0 503.7,276.3 504.1,279.8 504.4,284.2 504.8,282.1 505.1,273.3 505.4,276.6 505.8,283.4 506.1,286.9 506.5,291.5 506.8,301.1 507.2,292.6 507.5,290.8 507.9,292.1 508.2,293.0 508.6,292.6 508.9,290.4 509.2,295.3 509.6,294.5 509.9,302.6 510.3,307.0 510.6,306.7 511.0,298.1 511.3,293.1 511.7,295.0 512.0,303.1 512.3,302.0 512.7,303.4 513.0,303.8 513.4,293.8 513.7,300.3 514.1,305.8 514.4,299.1 514.8,289.6 515.1,280.9 515.5,269.4 515.8,271.7 516.1,298.2 516.5,289.8 516.8,260.3 517.2,249.3 517.5,272.8 517.9,292.7 518.2,293.4 518.6,270.9 518.9,243.5 519.2,253.3 519.6,257.4 519.9,245.9 520.3,242.9 520.6,226.9 521.0,226.6 521.3,259.5 521.7,297.6 522.0,283.7 522.4,245.2 522.7,253.6 523.0,267.6 523.4,297.2 523.7,285.7 524.1,239.0 524.4,233.1 524.8,265.3 525.1,251.4 525.5,248.8 525.8,228.6 526.1,239.0 526.5,257.2 526.8,265.8 527.2,260.4 527.5,231.5 527.9,272.3 528.2,298.0 528.6,264.6 528.9,237.4 529.3,238.6 529.6,250.0 529.9,256.1 530.3,266.9 530.6,241.7 531.0,259.2 531.3,289.1 531.7,294.8 532.0,281.3 532.4,263.9 532.7,276.3" fill="none" stroke="#ffff00" stroke-opacity="0.45" stroke-width="0.85" stroke-linejoin="bevel"/>
<path d="M52.2,218.7 52.6,219.8 52.9,220.6 53.3,209.5 53.6,196.8 54.0,183.9 54.3,194.2 54.6,192.6 55.0,208.7 55.3,272.1 55.7,264.0 56.0,232.6 56.4,203.5 56.7,209.1 57.1,209.7 57.4,187.2 57.8,168.3 58.1,165.6 58.4,164.3 58.8,170.4 59.1,185.1 59.5,187.7 59.8,190.1 60.2,171.8 60.5,167.5 60.9,141.9 61.2,165.2 61.5,171.4 61.9,189.0 62.2,223.3 62.6,193.0 62.9,178.0 63.3,186.7 63.6,203.8 64.0,196.6 64.3,239.4 64.7,243.2 65.0,177.4 65.3,208.1 65.7,181.2 66.0,184.3 66.4,163.0 66.7,131.7 67.1,154.5 67.4,167.2 67.8,181.8 68.1,182.2 68.4,210.5 68.8,242.2 69.1,273.6 69.5,217.3 69.8,233.2 70.2,170.6 70.5,168.7 70.9,165.5 71.2,188.1 71.6,198.3 71.9,183.6 72.2,179.5 72.6,197.5 72.9,172.6 73.3,191.0 73.6,167.5 74.0,141.9 74.3,121.6 74.7,94.2 75.0,94.2 75.3,140.8 75.7,151.0 76.0,167.7 76.4,182.5 76.7,170.1 77.1,168.3 77.4,129.8 77.8,168.4 78.1,172.9 78.5,191.1 78.8,232.3 79.1,261.5 79.5,240.7 79.8,234.9 80.2,265.4 80.5,204.8 80.9,198.7 81.2,197.4 81.6,179.7 81.9,183.9 82.2,187.0 82.6,182.9 82.9,176.8 83.3,197.1 83.6,210.5 84.0,228.3 84.3,212.8 84.7,209.8 85.0,212.9 85.4,212.9 85.7,223.7 86.0,219.1 86.4,262.0 86.7,201.0 87.1,185.2 87.4,172.7 87.8,189.0 88.1,198.5 88.5,202.6 88.8,214.4 89.1,216.0 89.5,186.0 89.8,233.5 90.2,202.9 90.5,195.6 90.9,191.7 91.2,191.2 91.6,196.1 91.9,197.6 92.3,206.8 92.6,213.1 92.9,239.4 93.3,193.3 93.6,222.3 94.0,217.5 94.3,228.1 94.7,222.9 95.0,223.8 95.4,222.9 95.7,219.0 96.0,220.6 96.4,227.1 96.7,247.3 97.1,260.5 97.4,246.6 97.8,229.5 98.1,225.2 98.5,228.0 98.8,236.9 99.2,231.3 99.5,198.7 99.8,204.6 100.2,200.3 100.5,246.6 100.9,278.7 101.2,279.7 101.6,243.2 101.9,204.8 102.3,175.1 102.6,158.2 102.9,98.3 103.3,97.1 103.6,142.5 104.0,163.9 104.3,196.7 104.7,199.4 105.0,247.3 105.4,202.8 105.7,230.0 106.1,210.8 106.4,213.4 106.7,207.6 107.1,218.8 107.4,215.1 107.8,256.5 108.1,275.8 108.5,246.6 108.8,227.1 109.2,251.8 109.5,214.2 109.8,248.9 110.2,231.9 110.5,201.8 110.9,192.0 111.2,189.4 111.6,180.5 111.9,226.9 112.3,182.1 112.6,215.6 113.0,218.6 113.3,214.4 113.6,223.2 114.0,201.6 114.3,171.9 114.7,192.3 115.0,199.3 115.4,217.1 115.7,214.1 116.1,224.9 116.4,217.5 116.7,240.7 117.1,265.6 117.4,268.3 117.8,237.0 118.1,213.4 118.5,246.1 118.8,215.4 119.2,221.9 119.5,196.9 119.9,250.6 120.2,265.8 120.5,233.2 120.9,206.8 121.2,186.5 121.6,201.3 121.9,165.6 122.3,155.5 122.6,148.0 123.0,128.4 123.3,155.0 123.6,140.2 124.0,143.5 124.3,146.5 124.7,161.9 125.0,172.2 125.4,203.0 125.7,210.0 126.1,176.6 126.4,173.6 126.8,250.3 127.1,195.6 127.4,227.9 127.8,231.1 128.1,248.0 128.5,213.7 128.8,231.9 129.2,217.6 129.5,232.4 129.9,250.0 130.2,249.0 130.5,234.6 130.9,192.5 131.2,212.7 131.6,189.2 131.9,188.3 132.3,180.6 132.6,159.3 133.0,157.6 133.3,185.0 133.7,185.5 134.0,174.6 134.3,162.5 134.7,184.4 135.0,170.6 135.4,156.7 135.7,171.2 136.1,179.8 136.4,180.1 136.8,198.1 137.1,210.1 137.4,229.5 137.8,245.2 138.1,229.5 138.5,224.7 138.8,220.9 139.2,245.5 139.5,234.6 139.9,211.7 140.2,234.9 140.6,211.0 140.9,225.0 141.2,225.1 141.6,257.2 141.9,257.0 142.3,249.9 142.6,245.2 143.0,257.6 143.3,245.8 143.7,229.1 144.0,259.1 144.3,202.7 144.7,223.7 145.0,198.0 145.4,184.5 145.7,168.9 146.1,185.1 146.4,195.6 146.8,203.9 147.1,194.3 147.5,190.5 147.8,184.1 148.1,180.3 148.5,171.6 148.8,161.5 149.2,152.6 149.5,167.0 149.9,167.9 150.2,175.3 150.6,192.8 150.9,200.2 151.2,195.7 151.6,202.2 151.9,202.2 152.3,211.2 152.6,206.7 153.0,206.0 153.3,218.8 153.7,231.6 154.0,254.1 154.4,226.4 154.7,248.4 155.0,231.2 155.4,206.7 155.7,196.5 156.1,196.3 156.4,210.7 156.8,210.2 157.1,219.1 157.5,202.1 157.8,187.3 158.1,148.2 158.5,164.7 158.8,172.7 159.2,177.2 159.5,189.2 159.9,205.0 160.2,209.0 160.6,187.2 160.9,203.5 161.3,203.8 161.6,179.8 161.9,179.2 162.3,177.4 162.6,182.3 163.0,204.8 163.3,237.4 163.7,222.5 164.0,208.4 164.4,217.5 164.7,214.2 165.0,269.7 165.4,232.2 165.7,269.8 166.1,268.7 166.4,270.3 166.8,262.7 167.1,221.6 167.5,230.6 167.8,220.7 168.2,271.1 168.5,232.8 168.8,246.0 169.2,261.3 169.5,237.4 169.9,220.2 170.2,203.4 170.6,203.1 170.9,189.1 171.3,195.9 171.6,202.5 171.9,218.5 172.3,236.1 172.6,226.3 173.0,230.8 173.3,254.6 173.7,239.6 174.0,243.0 174.4,261.9 174.7,241.2 175.1,222.2 175.4,217.5 175.7,221.2 176.1,211.9 176.4,207.6 176.8,215.4 177.1,223.4 177.5,239.2 177.8,231.6 178.2,230.1 178.5,238.9 178.8,237.6 179.2,256.9 179.5,281.8 179.9,262.1 180.2,277.8 180.6,255.7 180.9,255.5 181.3,263.3 181.6,259.6 182.0,293.3 182.3,266.9 182.6,246.0 183.0,250.5 183.3,251.6 183.7,255.5 184.0,258.3 184.4,276.2 184.7,284.2 185.1,273.7 185.4,254.8 185.7,272.6 186.1,262.3 186.4,250.8 186.8,233.8 187.1,206.1 187.5,177.5 187.8,213.3 188.2,235.0 188.5,250.3 188.9,255.7 189.2,269.6 189.5,271.7 189.9,290.1 190.2,293.9 190.6,271.5 190.9,284.6 191.3,292.4 191.6,291.9 192.0,293.6 192.3,281.6 192.6,267.0 193.0,277.1 193.3,287.0 193.7,278.9 194.0,256.0 194.4,249.2 194.7,242.4 195.1,241.4 195.4,250.2 195.8,239.7 196.1,252.4 196.4,224.0 196.8,222.5 197.1,217.1 197.5,232.3 197.8,240.2 198.2,273.0 198.5,259.9 198.9,244.8 199.2,215.7 199.5,210.3 199.9,184.8 200.2,182.7 200.6,206.0 200.9,221.5 201.3,239.7 201.6,289.6 202.0,272.8 202.3,247.2 202.7,238.1 203.0,230.3 203.3,213.3 203.7,225.8 204.0,233.4 204.4,246.4 204.7,292.3 205.1,268.8 205.4,275.0 205.8,286.1 206.1,293.2 206.4,284.9 206.8,260.9 207.1,289.2 207.5,264.7 207.8,282.0 208.2,266.6 208.5,255.7 208.9,256.5 209.2,247.0 209.6,232.2 209.9,196.2 210.2,206.0 210.6,198.3 210.9,210.1 211.3,194.6 211.6,203.5 212.0,215.1 212.3,232.3 212.7,219.6 213.0,216.5 213.3,176.7 213.7,214.4 214.0,228.9 214.4,246.8 214.7,256.9 215.1,299.2 215.4,293.8 215.8,252.4 216.1,229.4 216.5,231.6 216.8,214.6 217.1,221.6 217.5,249.2 217.8,261.9 218.2,262.6 218.5,262.5 218.9,261.7 219.2,259.8 219.6,266.9 219.9,271.4 220.2,272.1 220.6,265.7 220.9,269.2 221.3,279.7 221.6,272.8 222.0,268.6 222.3,273.4 222.7,270.1 223.0,259.4 223.4,271.2 223.7,297.6 224.0,280.6 224.4,283.3 224.7,274.8 225.1,266.5 225.4,260.2 225.8,262.6 226.1,270.5 226.5,266.7 226.8,261.6 227.1,262.5 227.5,247.0 227.8,253.8 228.2,241.2 228.5,250.2 228.9,247.2 229.2,240.0 229.6,256.9 229.9,263.6 230.3,293.9 230.6,285.4 230.9,273.6 231.3,273.2 231.6,274.1 232.0,274.3 232.3,295.9 232.7,300.6 233.0,295.8 233.4,291.2 233.7,271.8 234.0,273.1 234.4,290.8 234.7,273.1 235.1,286.5 235.4,279.0 235.8,298.9 236.1,279.6 236.5,275.7 236.8,267.5 237.2,273.4 237.5,266.1 237.8,256.3 238.2,254.5 238.5,250.4 238.9,261.4 239.2,263.9 239.6,260.9 239.9,265.1 240.3,271.7 240.6,298.6 240.9,255.1 241.3,249.9 241.6,230.6 242.0,233.5 242.3,252.9 242.7,259.5 243.0,267.4 243.4,275.6 243.7,280.7 244.1,299.5 244.4,298.7 244.7,301.1 245.1,302.5 245.4,300.5 245.8,279.2 246.1,284.3 246.5,298.5 246.8,302.6 247.2,300.5 247.5,291.9 247.8,285.2 248.2,283.9 248.5,274.4 248.9,274.5 249.2,280.4 249.6,277.7 249.9,280.3 250.3,272.6 250.6,265.5 251.0,269.7 251.3,267.9 251.6,277.5 252.0,274.8 252.3,281.1 252.7,288.4 253.0,278.7 253.4,258.3 253.7,240.4 254.1,229.7 254.4,234.8 254.7,250.8 255.1,264.3 255.4,293.4 255.8,279.5 256.1,280.1 256.5,289.7 256.8,278.4 257.2,288.0 257.5,288.2 257.9,284.4 258.2,290.1 258.5,291.0 258.9,293.4 259.2,290.4 259.6,299.6 259.9,295.2 260.3,292.7 260.6,303.5 261.0,298.0 261.3,285.7 261.6,287.7 262.0,287.8 262.3,275.3 262.7,270.9 263.0,263.7 263.4,261.1 263.7,271.8 264.1,274.1 264.4,302.8 264.8,300.3 265.1,293.6 265.4,284.4 265.8,281.3 266.1,281.1 266.5,281.4 266.8,275.3 267.2,274.3 267.5,277.1 267.9,282.6 268.2,286.1 268.5,285.6 268.9,275.2 269.2,274.0 269.6,283.1 269.9,285.1 270.3,280.3 270.6,280.2 271.0,280.7 271.3,286.7 271.7,287.6 272.0,286.3 272.3,277.2 272.7,293.5 273.0,300.1 273.4,303.2 273.7,274.6 274.1,293.5 274.4,297.4 274.8,293.5 275.1,268.0 275.4,257.0 275.8,254.4 276.1,246.6 276.5,255.4 276.8,257.6 277.2,258.2 277.5,253.5 277.9,256.8 278.2,258.8 278.6,265.6 278.9,265.5 279.2,268.9 279.6,266.2 279.9,293.8 280.3,264.4 280.6,248.2 281.0,231.6 281.3,240.9 281.7,239.9 282.0,261.5 282.3,270.9 282.7,267.3 283.0,271.3 283.4,298.5 283.7,276.0 284.1,269.0 284.4,268.2 284.8,271.3 285.1,279.7 285.5,274.6 285.8,268.3 286.1,305.8 286.5,292.8 286.8,277.3 287.2,286.6 287.5,270.2 287.9,261.9 288.2,253.3 288.6,260.3 288.9,268.9 289.2,276.4 289.6,292.1 289.9,290.2 290.3,286.2 290.6,292.9 291.0,293.1 291.3,294.0 291.7,298.1 292.0,299.1 292.4,297.7 292.7,304.3 293.0,303.5 293.4,300.3 293.7,303.7 294.1,300.5 294.4,300.0 294.8,303.0 295.1,302.5 295.5,301.5 295.8,292.5 296.1,287.0 296.5,290.9 296.8,284.5 297.2,287.5 297.5,288.2 297.9,290.1 298.2,305.2 298.6,297.2 298.9,286.6 299.3,274.2 299.6,270.5 299.9,266.1 300.3,262.1 300.6,264.8 301.0,263.9 301.3,265.8 301.7,266.5 302.0,267.6 302.4,272.9 302.7,279.0 303.0,274.1 303.4,277.9 303.7,286.0 304.1,290.9 304.4,290.0 304.8,296.5 305.1,296.6 305.5,301.8 305.8,302.5 306.2,303.5 306.5,302.0 306.8,301.7 307.2,302.5 307.5,305.8 307.9,305.9 308.2,305.8 308.6,303.2 308.9,303.0 309.3,304.7 309.6,302.9 309.9,301.1 310.3,297.5 310.6,306.0 311.0,306.9 311.3,296.0 311.7,295.2 312.0,295.5 312.4,297.4 312.7,286.0 313.1,281.9 313.4,279.2 313.7,277.9 314.1,281.2 314.4,279.3 314.8,276.9 315.1,276.6 315.5,279.4 315.8,281.5 316.2,307.1 316.5,287.3 316.8,274.6 317.2,276.3 317.5,281.5 317.9,294.4 318.2,298.0 318.6,293.4 318.9,292.8 319.3,290.1 319.6,286.1 320.0,277.5 320.3,286.4 320.6,289.4 321.0,289.3 321.3,300.0 321.7,299.6 322.0,306.9 322.4,306.5 322.7,304.9 323.1,295.6 323.4,305.0 323.7,297.7 324.1,304.5 324.4,306.8 324.8,298.3 325.1,300.4 325.5,296.1 325.8,296.5 326.2,299.8 326.5,298.1 326.9,291.1 327.2,289.8 327.5,291.7 327.9,291.1 328.2,291.8 328.6,294.2 328.9,294.4 329.3,303.9 329.6,307.3 330.0,297.0 330.3,291.8 330.6,300.4 331.0,307.0 331.3,306.7 331.7,297.7 332.0,294.6 332.4,300.7 332.7,300.2 333.1,295.0 333.4,297.9 333.8,306.3 334.1,307.6 334.4,307.4 334.8,300.6 335.1,298.5 335.5,305.0 335.8,305.7 336.2,302.1 336.5,292.5 336.9,286.8 337.2,280.1 337.5,272.5 337.9,283.3 338.2,289.7 338.6,295.0 338.9,290.8 339.3,283.4 339.6,280.0 340.0,270.0 340.3,280.5 340.7,285.0 341.0,286.0 341.3,285.5 341.7,287.0 342.0,291.1 342.4,295.4 342.7,299.5 343.1,293.0 343.4,294.2 343.8,291.0 344.1,290.4 344.4,294.6 344.8,302.3 345.1,299.6 345.5,290.8 345.8,291.7 346.2,297.4 346.5,295.7 346.9,296.2 347.2,300.8 347.6,297.2 347.9,295.7 348.2,293.7 348.6,299.1 348.9,294.9 349.3,306.8 349.6,308.4 350.0,306.6 350.3,303.1 350.7,304.8 351.0,306.0 351.3,301.4 351.7,302.2 352.0,300.6 352.4,303.1 352.7,305.4 353.1,304.7 353.4,305.3 353.8,305.5 354.1,305.0 354.5,303.1 354.8,305.3 355.1,304.0 355.5,303.2 355.8,301.2 356.2,299.3 356.5,299.2 356.9,306.0 357.2,305.2 357.6,307.7 357.9,306.8 358.2,306.6 358.6,304.7 358.9,300.9 359.3,301.8 359.6,297.0 360.0,296.8 360.3,294.7 360.7,295.9 361.0,289.7 361.4,294.0 361.7,292.1 362.0,288.4 362.4,293.9 362.7,288.7 363.1,286.3 363.4,286.4 363.8,285.1 364.1,288.8 364.5,292.9 364.8,294.6 365.1,296.4 365.5,301.1 365.8,300.5 366.2,299.2 366.5,298.4 366.9,294.2 367.2,291.7 367.6,291.0 367.9,293.5 368.3,295.0 368.6,299.4 368.9,297.0 369.3,299.4 369.6,302.7 370.0,300.0 370.3,300.6 370.7,300.1 371.0,299.3 371.4,305.5 371.7,305.9 372.0,303.1 372.4,298.7 372.7,297.4 373.1,295.4 373.4,299.3 373.8,304.7 374.1,308.7 374.5,307.5 374.8,306.4 375.2,307.0 375.5,308.2 375.8,306.3 376.2,305.4 376.5,302.8 376.9,300.8 377.2,303.5 377.6,303.7 377.9,306.3 378.3,301.1 378.6,306.4 378.9,301.1 379.3,300.0 379.6,301.5 380.0,303.8 380.3,305.7 380.7,304.8 381.0,306.7 381.4,307.4 381.7,306.7 382.1,303.8 382.4,306.7 382.7,305.3 383.1,305.0 383.4,304.1 383.8,297.3 384.1,292.0 384.5,291.6 384.8,288.2 385.2,290.7 385.5,291.8 385.8,295.6 386.2,302.8 386.5,301.0 386.9,302.0 387.2,306.1 387.6,307.3 387.9,299.5 388.3,300.1 388.6,304.5 389.0,305.6 389.3,306.2 389.6,306.1 390.0,306.9 390.3,307.6 390.7,307.3 391.0,305.2 391.4,304.9 391.7,305.6 392.1,304.3 392.4,304.4 392.7,299.1 393.1,299.6 393.4,305.1 393.8,306.1 394.1,307.3 394.5,307.2 394.8,303.4 395.2,301.0 395.5,301.9 395.9,295.4 396.2,293.7 396.5,279.7 396.9,284.6 397.2,290.6 397.6,298.3 397.9,303.6 398.3,306.3 398.6,306.2 399.0,299.9 399.3,303.3 399.6,306.0 400.0,303.6 400.3,304.9 400.7,306.9 401.0,306.6 401.4,308.3 401.7,305.6 402.1,301.3 402.4,298.5 402.8,296.3 403.1,301.6 403.4,303.5 403.8,307.3 404.1,307.5 404.5,305.5 404.8,307.1 405.2,309.0 405.5,305.5 405.9,306.0 406.2,308.4 406.5,307.9 406.9,306.8 407.2,308.0 407.6,306.6 407.9,305.8 408.3,306.8 408.6,304.8 409.0,307.2 409.3,306.9 409.7,306.6 410.0,307.5 410.3,306.9 410.7,307.1 411.0,307.5 411.4,306.5 411.7,301.1 412.1,303.7 412.4,305.4 412.8,304.4 413.1,301.2 413.4,301.5 413.8,304.1 414.1,307.0 414.5,307.0 414.8,305.8 415.2,306.8 415.5,305.7 415.9,305.7 416.2,308.9 416.6,306.3 416.9,302.6 417.2,300.2 417.6,299.1 417.9,300.8 418.3,303.9 418.6,306.0 419.0,307.0 419.3,308.5 419.7,308.1 420.0,306.8 420.3,304.6 420.7,304.2 421.0,307.5 421.4,308.3 421.7,303.2 422.1,302.0 422.4,299.8 422.8,299.1 423.1,301.1 423.5,304.5 423.8,306.8 424.1,305.1 424.5,304.1 424.8,302.4 425.2,301.1 425.5,304.3 425.9,306.0 426.2,306.4 426.6,307.7 426.9,303.4 427.2,305.4 427.6,301.2 427.9,302.8 428.3,306.4 428.6,303.7 429.0,307.9 429.3,307.8 429.7,305.5 430.0,308.2 430.4,306.4 430.7,307.9 431.0,305.5 431.4,302.8 431.7,304.2 432.1,306.6 432.4,305.7 432.8,306.3 433.1,306.7 433.5,307.0 433.8,306.1 434.1,306.2 434.5,304.7 434.8,301.9 435.2,304.7 435.5,305.5 435.9,306.0 436.2,304.2 436.6,303.1 436.9,303.6 437.3,303.0 437.6,305.7 437.9,305.5 438.3,308.8 438.6,307.6 439.0,307.8 439.3,306.3 439.7,306.5 440.0,306.2 440.4,308.9 440.7,306.6 441.0,307.0 441.4,305.9 441.7,307.6 442.1,305.9 442.4,308.1 442.8,306.9 443.1,306.6 443.5,303.8 443.8,305.1 444.2,303.8 444.5,307.9 444.8,306.4 445.2,308.1 445.5,308.9 445.9,307.4 446.2,307.6 446.6,306.7 446.9,306.1 447.3,307.3 447.6,307.4 447.9,308.1 448.3,306.7 448.6,306.8 449.0,308.9 449.3,305.6 449.7,305.7 450.0,306.3 450.4,303.0 450.7,306.2 451.1,306.7 451.4,308.4 451.7,307.1 452.1,307.7 452.4,307.7 452.8,308.5 453.1,306.0 453.5,306.7 453.8,307.1 454.2,308.9 454.5,306.4 454.8,305.9 455.2,304.9 455.5,306.3 455.9,304.2 456.2,304.6 456.6,305.6 456.9,305.6 457.3,303.3 457.6,307.6 458.0,303.5 458.3,298.9 458.6,296.9 459.0,296.8 459.3,301.7 459.7,298.2 460.0,295.7 460.4,293.9 460.7,300.0 461.1,303.5 461.4,305.7 461.7,305.9 462.1,306.5 462.4,303.7 462.8,299.2 463.1,294.3 463.5,294.4 463.8,297.5 464.2,302.0 464.5,306.9 464.9,305.7 465.2,304.4 465.5,298.6 465.9,299.0 466.2,299.2 466.6,294.5 466.9,295.8 467.3,298.1 467.6,291.4 468.0,297.1 468.3,298.1 468.6,291.9 469.0,291.8 469.3,286.1 469.7,289.7 470.0,296.1 470.4,305.9 470.7,308.8 471.1,306.3 471.4,306.6 471.8,306.7 472.1,307.0 472.4,291.6 472.8,291.9 473.1,295.4 473.5,291.9 473.8,286.3 474.2,289.5 474.5,287.3 474.9,280.9 475.2,275.3 475.5,280.4 475.9,287.9 476.2,293.1 476.6,289.4 476.9,292.5 477.3,302.5 477.6,308.1 478.0,304.2 478.3,302.3 478.7,294.9 479.0,291.3 479.3,295.7 479.7,299.5 480.0,295.8 480.4,295.3 480.7,292.3 481.1,294.4 481.4,295.5 481.8,295.8 482.1,299.6 482.4,298.4 482.8,301.0 483.1,297.8 483.5,298.8 483.8,297.3 484.2,296.8 484.5,300.1 484.9,294.0 485.2,288.9 485.6,281.7 485.9,291.0 486.2,296.3 486.6,300.8 486.9,296.5 487.3,298.2 487.6,296.2 488.0,291.3 488.3,285.9 488.7,272.3 489.0,279.3 489.3,285.4 489.7,291.7 490.0,297.7 490.4,305.7 490.7,307.5 491.1,303.1 491.4,308.6 491.8,299.2 492.1,307.0 492.5,306.5 492.8,306.5 493.1,307.6 493.5,305.3 493.8,288.7 494.2,295.8 494.5,288.1 494.9,286.6 495.2,286.4 495.6,283.7 495.9,280.0 496.2,277.4 496.6,284.1 496.9,287.9 497.3,290.3 497.6,308.7 498.0,305.9 498.3,307.3 498.7,290.2 499.0,288.9 499.4,285.0 499.7,280.8 500.0,275.8 500.4,278.3 500.7,274.5 501.1,281.3 501.4,283.2 501.8,273.8 502.1,273.1 502.5,278.3 502.8,283.0 503.1,277.8 503.5,272.5 503.8,276.9 504.2,280.8 504.5,284.2 504.9,278.4 505.2,274.2 505.6,277.5 505.9,279.5 506.3,286.6 506.6,290.5 506.9,293.2 507.3,293.8 507.6,292.2 508.0,293.6 508.3,294.5 508.7,289.8 509.0,290.7 509.4,294.8 509.7,296.8 510.0,301.7 510.4,306.7 510.7,301.2 511.1,295.4 511.4,297.1 511.8,293.0 512.1,305.6 512.5,300.8 512.8,307.6 513.2,297.3 513.5,299.9 513.8,298.0 514.2,306.7 514.5,293.8 514.9,288.1 515.2,265.3 515.6,263.9 515.9,279.5 516.3,299.3 516.6,284.3 516.9,256.1 517.3,255.9 517.6,282.5 518.0,298.5 518.3,287.4 518.7,245.8 519.0,246.0 519.4,259.2 519.7,255.6 520.1,237.1 520.4,222.6 520.7,225.6 521.1,250.1 521.4,262.5 521.8,296.9 522.1,271.6 522.5,250.7 522.8,243.9 523.2,287.3 523.5,297.8 523.8,266.4 524.2,228.4 524.5,248.6 524.9,262.1 525.2,255.8 525.6,247.2 525.9,230.4 526.3,244.9 526.6,254.8 527.0,285.0 527.3,242.1 527.6,251.6 528.0,287.0 528.3,272.1 528.7,258.9 529.0,239.2 529.4,233.1 529.7,251.2 530.1,263.9 530.4,253.7 530.7,240.5 531.1,261.8 531.4,292.6 531.8,291.6 532.1,273.5 532.5,253.5 532.8,279.6" fill="none" stroke="#ffff00" stroke-opacity="0.45" stroke-width="0.85" stroke-linejoin="bevel"/>
<line x1="53.2" y1="16.2" x2="488.6" y2="16.2" stroke="#999" stroke-width="2.2"/><path d="M486.6,13.6 L490.6,16.2 L486.6,18.8 Z" fill="#999"/>
<line x1="53.4" y1="14" x2="53.4" y2="18.5" stroke="#999" stroke-width="1.2"/>
<line x1="112.6" y1="3.2" x2="112.6" y2="309.2" stroke="#555" stroke-width="1"/>
<line x1="175.3" y1="3.2" x2="175.3" y2="309.2" stroke="#555" stroke-width="1"/>
<line x1="217.1" y1="3.2" x2="217.1" y2="309.2" stroke="#555" stroke-width="1"/>
<line x1="272.1" y1="3.2" x2="272.1" y2="309.2" stroke="#555" stroke-width="1"/>
<line x1="314.1" y1="3.2" x2="314.1" y2="309.2" stroke="#555" stroke-width="1"/>
<line x1="412.5" y1="3.2" x2="412.5" y2="309.2" stroke="#555" stroke-width="1"/>
<line x1="492.5" y1="3.2" x2="492.5" y2="309.2" stroke="#555" stroke-width="1"/>
<line x1="451" y1="3.2" x2="451" y2="309.2" stroke="#000" stroke-width="2.2"/>
<line x1="332.6" y1="3.2" x2="332.6" y2="309.2" stroke="#3a9a4a" stroke-width="0.95" stroke-dasharray="4.4,3.3"/>
<line x1="336.4" y1="3.2" x2="336.4" y2="309.2" stroke="#d03848" stroke-width="0.95" stroke-dasharray="4.4,3.3"/>
<line x1="442.5" y1="3.2" x2="442.5" y2="309.2" stroke="#a860d8" stroke-width="0.95" stroke-dasharray="4.2,3.5"/>
<line x1="473.2" y1="3.2" x2="473.2" y2="309.2" stroke="#48acd8" stroke-width="0.95" stroke-dasharray="4.2,3.5"/>
<line x1="490.4" y1="3.2" x2="490.4" y2="309.2" stroke="#8a8a8a" stroke-width="0.95" stroke-dasharray="6.4,1.7"/>
<path d="M51.8,231.0 L52.4,228.4 L54.0,220.3 L56.5,209.0 L58.9,189.7 L61.3,194.5 L64.5,201.0 L66.9,202.6 L70.2,201.0 L72.6,189.7 L73.6,162.1 L76.6,189.0 L79.8,212.3 L82.3,218.7 L84.7,222.7 L87.9,216.3 L91.1,218.7 L94.4,224.4 L96.8,233.2 L98.0,238.0 L100.6,211.4 L103.5,213.3 L106.3,219.0 L108.6,225.6 L111.0,199.2 L111.9,192.6 L112.9,213.3 L114.8,236.9 L118.5,217.1 L122.3,178.5 L125.1,192.6 L128.9,213.3 L132.7,194.5 L135.5,205.8 L140.2,215.2 L143.2,224.4 L145.9,215.8 L147.5,205.0 L150.8,205.0 L154.0,233.0 L157.2,222.2 L161.5,208.8 L165.3,217.9 L168.0,224.4 L171.2,226.0 L173.3,231.9 L175.5,238.3 L178.6,239.8 L181.0,259.2 L182.3,270.0 L184.7,256.8 L188.3,256.8 L193.1,261.6 L195.6,247.1 L199.8,237.4 L202.2,242.3 L204.6,256.8 L207.0,267.6 L209.5,253.1 L213.7,251.3 L214.9,257.4 L216.7,263.4 L221.0,277.3 L224.6,270.1 L227.6,267.0 L231.2,275.5 L235.5,272.5 L241.5,265.6 L245.4,276.9 L248.5,286.0 L250.9,270.9 L252.1,268.5 L255.1,271.5 L256.9,279.3 L258.7,294.5 L261.8,284.2 L263.6,283.0 L267.2,285.4 L270.8,288.4 L272.6,288.4 L274.5,279.3 L276.3,273.3 L278.7,274.5 L281.7,275.1 L285.3,276.9 L287.8,280.6 L289.6,286.0 L292.0,295.1 L294.4,301.7 L297.4,293.9 L299.9,284.2 L301.1,274.5 L302.3,279.3 L303.5,287.8 L305.3,296.3 L307.9,305.0 L310.8,300.9 L312.6,296.8 L314.3,284.0 L316.7,286.9 L319.0,292.2 L321.3,297.4 L324.3,298.6 L327.8,298.0 L331.3,297.4 L333.6,298.6 L335.9,300.6 L339.4,291.6 L342.3,297.4 L345.3,295.4 L347.6,298.0 L349.9,300.9 L352.8,304.4 L356.3,306.8 L358.7,303.8 L360.4,299.8 L363.3,299.4 L366.8,301.5 L370.3,305.0 L373.5,307.4 L377.0,308.2 L380.5,307.1 L382.8,303.9 L384.6,302.4 L386.9,305.7 L389.8,307.1 L392.8,303.3 L394.5,301.9 L396.8,304.5 L399.2,307.8 L405.0,308.2 L410.8,308.6 L416.7,308.2 L420.2,306.6 L423.7,306.8 L426.0,308.2 L440.0,308.6 L449.3,308.5 L452.8,309.1 L456.3,307.1 L459.8,306.4 L464.5,306.2 L468.0,301.3 L470.9,299.8 L475.0,294.3 L478.5,296.8 L482.6,302.7 L486.7,301.5 L491.3,296.3 L496.0,291.6 L500.1,288.1 L503.6,289.3 L506.5,292.8 L510.3,297.4 L514.0,294.0 L515.7,285.2 L518.2,275.5 L520.6,265.8 L522.3,261.0 L524.2,263.4 L526.6,270.7 L529.1,275.5 L531.5,277.5" fill="none" stroke="#3565c8" stroke-width="1.25" stroke-linejoin="round"/>
<path d="M51.8,231.0 L52.4,228.4 L54.0,220.3 L56.5,209.0 L58.9,189.7 L61.3,194.5 L64.5,201.0 L66.9,202.6 L70.2,201.0 L72.6,189.7 L73.6,162.1 L76.6,189.0 L79.8,212.3 L82.3,218.7 L84.7,222.7 L87.9,216.3 L91.1,218.7 L94.4,224.4 L96.8,233.2 L98.0,238.0 L100.6,211.4 L103.5,213.3 L106.3,219.0 L108.6,225.6 L111.0,199.2 L111.9,192.6 L112.9,213.3 L114.8,236.9 L118.5,217.1 L122.3,178.5 L125.1,192.6 L128.9,213.3 L132.7,194.5 L135.5,205.8 L140.2,215.2 L143.2,224.4 L145.9,215.8 L147.5,205.0 L150.8,205.0 L154.0,233.0 L157.2,222.2 L161.5,208.8 L165.3,217.9 L168.0,224.4 L171.2,226.0 L173.3,231.9 L175.5,238.3 L178.6,239.8 L181.0,259.2 L182.3,270.0 L184.7,256.8 L188.3,256.8 L193.1,261.6 L195.6,247.1 L199.8,237.4 L202.2,242.3 L204.6,256.8 L207.0,267.6 L209.5,253.1 L213.7,251.3 L214.9,257.4 L216.7,263.4 L221.0,277.3 L224.6,270.1 L227.6,267.0 L231.2,275.5 L235.5,272.5 L241.5,265.6 L245.4,276.9 L248.5,286.0 L250.9,270.9 L252.1,268.5 L255.1,271.5 L256.9,279.3 L258.7,294.5 L261.8,284.2 L263.6,283.0 L267.2,285.4 L270.8,288.4 L272.6,288.4 L274.5,279.3 L276.3,273.3 L278.7,274.5 L281.7,275.1 L285.3,276.9 L287.8,280.6 L289.6,286.0 L292.0,295.1 L294.4,301.7 L297.4,293.9 L299.9,284.2 L301.1,274.5 L302.3,279.3 L303.5,287.8 L305.3,296.3 L307.9,305.0 L310.8,300.9 L312.6,296.8 L314.3,284.0 L316.7,286.9 L319.0,292.2 L321.3,297.4 L324.3,298.6 L327.8,298.0 L331.3,297.4 L333.6,298.6 L335.9,300.6 L339.4,291.6 L342.3,297.4 L345.3,295.4 L347.6,298.0 L349.9,300.9 L352.8,304.4 L356.3,306.8 L358.7,303.8 L360.4,299.8 L363.3,299.4 L366.8,301.5 L370.3,305.0 L373.5,307.4 L377.0,308.2 L380.5,307.1 L382.8,303.9 L384.6,302.4 L386.9,305.7 L389.8,307.1 L392.8,303.3 L394.5,301.9 L396.8,304.5 L399.2,307.8 L405.0,308.2 L410.8,308.6 L416.7,308.2 L420.2,306.6 L423.7,306.8 L426.0,308.2 L440.0,308.6 L449.3,308.5 L452.8,309.1 L456.3,307.1 L459.8,306.4 L464.5,306.2 L468.0,301.3 L470.9,299.8 L475.0,294.3 L478.5,296.8 L482.6,302.7 L486.7,301.5 L491.3,296.3 L496.0,291.6 L500.1,288.1 L503.6,289.3 L506.5,292.8 L510.3,297.4 L514.0,294.0 L515.7,285.2 L518.2,275.5 L520.6,265.8 L522.3,261.0 L524.2,263.4 L526.6,270.7 L529.1,275.5 L531.5,277.5" fill="none" stroke="#263f80" stroke-width="1.2" stroke-dasharray="1,3" stroke-linejoin="round"/>
<path d="M52.0,210.4 L53.2,208.2 L56.0,205.8 L59.7,204.2 L63.3,204.3 L66.1,205.0 L68.7,205.6 L72.6,204.6 L75.0,205.2 L79.3,207.0 L86.0,210.1 L91.6,212.3 L95.3,215.8 L97.8,218.0 L99.3,218.5 L103.0,216.5 L108.7,214.5 L114.0,212.6 L119.0,211.0 L125.1,209.6 L132.7,209.2 L138.3,209.8 L141.0,210.2 L145.4,212.3 L150.8,215.6 L155.0,219.0 L159.4,222.7 L163.7,227.4 L168.0,231.3 L172.3,235.1 L175.5,237.8 L179.8,240.3 L184.7,244.5 L189.5,248.3 L194.3,251.9 L199.2,255.0 L204.0,257.4 L208.9,259.2 L213.7,260.4 L217.3,262.2 L222.2,264.6 L227.0,267.6 L233.0,270.7 L239.1,273.1 L244.8,276.0 L249.7,277.6 L254.5,278.6 L259.3,279.8 L264.2,280.7 L269.0,281.5 L272.6,282.3 L276.3,283.5 L281.1,284.8 L286.0,286.0 L290.8,287.2 L295.6,288.4 L300.5,289.8 L305.3,292.0 L308.5,293.7 L312.0,295.0 L316.7,295.7 L322.5,296.3 L328.3,297.1 L334.2,298.0 L340.0,299.2 L345.8,300.1 L351.7,300.9 L357.5,301.7 L363.3,302.7 L369.2,303.8 L375.8,305.2 L381.7,306.3 L387.5,307.1 L393.3,307.5 L399.2,307.8 L405.0,308.1 L410.8,308.4 L416.7,308.5 L428.3,308.5 L440.0,308.5 L445.8,308.3 L451.7,307.1 L457.5,305.0 L463.3,303.3 L469.2,301.6 L475.0,299.7 L480.8,297.4 L486.7,295.8 L492.5,294.8 L498.3,292.8 L503.0,289.8 L507.7,285.8 L511.0,283.5 L515.5,281.2" fill="none" stroke="#ee5a1c" stroke-width="1.3" stroke-linejoin="round"/>
<path d="M511.5,280.0 L516.8,270.5 L522.7,262.3 L527.6,254.8 L532.3,247.0 L537.1,238.8 L541.1,231.3 L544.8,225.8 L547.8,221.3 L550.6,214.8 L553.9,207.7 L555.8,203.4 L561.2,190.5 L567.7,176.5 L572.3,168.5" fill="none" stroke="#d83a48" stroke-width="1.7" stroke-dasharray="1.7,1.9" stroke-linejoin="round"/>
<path d="M514.7,281.5 L519.0,275.3 L526.5,266.1 L532.3,259.0 L539.5,250.6 L546.0,242.0 L553.2,232.5 L560.5,225.0 L565.0,221.0 L571.5,217.0" fill="none" stroke="#d83a48" stroke-width="1.5" stroke-dasharray="4.5,3.2" stroke-linejoin="round"/>
<line x1="332.2" y1="24.9" x2="593.6" y2="24.9" stroke="#2aa82a" stroke-width="2.2"/><path d="M591.6,22.3 L595.6,24.9 L591.6,27.5 Z" fill="#2aa82a"/>
<line x1="336.0" y1="33.3" x2="593.6" y2="33.3" stroke="#e01c1c" stroke-width="2.2"/><path d="M591.6,30.7 L595.6,33.3 L591.6,35.9 Z" fill="#e01c1c"/>
<line x1="442.2" y1="42.6" x2="593.6" y2="42.6" stroke="#9a1ec8" stroke-width="2.2"/><path d="M591.6,40.0 L595.6,42.6 L591.6,45.2 Z" fill="#9a1ec8"/>
<line x1="473.2" y1="51.0" x2="593.6" y2="51.0" stroke="#1e96c0" stroke-width="2.2"/><path d="M591.6,48.4 L595.6,51.0 L591.6,53.6 Z" fill="#1e96c0"/>
<rect x="51.5" y="3.2" width="544.8" height="306" fill="none" stroke="#333" stroke-width="1.1"/>
<path d="M51.5,309.2v-10 M51.5,3.2v10 M72.4,309.2v-5 M72.4,3.2v5 M93.4,309.2v-5 M93.4,3.2v5 M114.3,309.2v-5 M114.3,3.2v5 M135.3,309.2v-10 M135.3,3.2v10 M156.3,309.2v-5 M156.3,3.2v5 M177.2,309.2v-5 M177.2,3.2v5 M198.2,309.2v-5 M198.2,3.2v5 M219.2,309.2v-10 M219.2,3.2v10 M240.1,309.2v-5 M240.1,3.2v5 M261.1,309.2v-5 M261.1,3.2v5 M282.1,309.2v-5 M282.1,3.2v5 M303.0,309.2v-10 M303.0,3.2v10 M324.0,309.2v-5 M324.0,3.2v5 M345.0,309.2v-5 M345.0,3.2v5 M365.9,309.2v-5 M365.9,3.2v5 M386.9,309.2v-10 M386.9,3.2v10 M407.9,309.2v-5 M407.9,3.2v5 M428.8,309.2v-5 M428.8,3.2v5 M449.8,309.2v-5 M449.8,3.2v5 M470.8,309.2v-10 M470.8,3.2v10 M491.7,309.2v-5 M491.7,3.2v5 M512.7,309.2v-5 M512.7,3.2v5 M533.6,309.2v-5 M533.6,3.2v5 M554.6,309.2v-10 M554.6,3.2v10 M575.6,309.2v-5 M575.6,3.2v5 M596.5,309.2v-5 M596.5,3.2v5 M51.5,309.2h11.0 M596.3,309.2h-11.0 M51.5,300.5h5.5 M596.3,300.5h-5.5 M51.5,291.7h5.5 M596.3,291.7h-5.5 M51.5,283.0h5.5 M596.3,283.0h-5.5 M51.5,274.2h5.5 M596.3,274.2h-5.5 M51.5,265.5h11.0 M596.3,265.5h-11.0 M51.5,256.7h5.5 M596.3,256.7h-5.5 M51.5,248.0h5.5 M596.3,248.0h-5.5 M51.5,239.3h5.5 M596.3,239.3h-5.5 M51.5,230.5h5.5 M596.3,230.5h-5.5 M51.5,221.8h11.0 M596.3,221.8h-11.0 M51.5,213.0h5.5 M596.3,213.0h-5.5 M51.5,204.3h5.5 M596.3,204.3h-5.5 M51.5,195.5h5.5 M596.3,195.5h-5.5 M51.5,186.8h5.5 M596.3,186.8h-5.5 M51.5,178.1h11.0 M596.3,178.1h-11.0 M51.5,169.3h5.5 M596.3,169.3h-5.5 M51.5,160.6h5.5 M596.3,160.6h-5.5 M51.5,151.8h5.5 M596.3,151.8h-5.5 M51.5,143.1h5.5 M596.3,143.1h-5.5 M51.5,134.3h11.0 M596.3,134.3h-11.0 M51.5,125.6h5.5 M596.3,125.6h-5.5 M51.5,116.9h5.5 M596.3,116.9h-5.5 M51.5,108.1h5.5 M596.3,108.1h-5.5 M51.5,99.4h5.5 M596.3,99.4h-5.5 M51.5,90.6h11.0 M596.3,90.6h-11.0 M51.5,81.9h5.5 M596.3,81.9h-5.5 M51.5,73.1h5.5 M596.3,73.1h-5.5 M51.5,64.4h5.5 M596.3,64.4h-5.5 M51.5,55.7h5.5 M596.3,55.7h-5.5 M51.5,46.9h11.0 M596.3,46.9h-11.0 M51.5,38.2h5.5 M596.3,38.2h-5.5 M51.5,29.4h5.5 M596.3,29.4h-5.5 M51.5,20.7h5.5 M596.3,20.7h-5.5 M51.5,11.9h5.5 M596.3,11.9h-5.5 M51.5,3.2h11.0 M596.3,3.2h-11.0" stroke="#333" stroke-width="1.1" fill="none"/>
<text x="47" y="309.6" font-size="14" fill="#333" text-anchor="end">0</text>
<text x="47" y="271.3" font-size="14" fill="#333" text-anchor="end">50</text>
<text x="47" y="227.6" font-size="14" fill="#333" text-anchor="end">100</text>
<text x="47" y="183.9" font-size="14" fill="#333" text-anchor="end">150</text>
<text x="47" y="140.1" font-size="14" fill="#333" text-anchor="end">200</text>
<text x="47" y="96.4" font-size="14" fill="#333" text-anchor="end">250</text>
<text x="47" y="52.7" font-size="14" fill="#333" text-anchor="end">300</text>
<text x="47" y="11.6" font-size="14" fill="#333" text-anchor="end">350</text>
<text x="51.5" y="327.1" font-size="14" fill="#333" text-anchor="middle">2000</text>
<text x="135.3" y="327.1" font-size="14" fill="#333" text-anchor="middle">2002</text>
<text x="219.2" y="327.1" font-size="14" fill="#333" text-anchor="middle">2004</text>
<text x="303.0" y="327.1" font-size="14" fill="#333" text-anchor="middle">2006</text>
<text x="386.9" y="327.1" font-size="14" fill="#333" text-anchor="middle">2008</text>
<text x="470.8" y="327.1" font-size="14" fill="#333" text-anchor="middle">2010</text>
<text x="554.6" y="327.1" font-size="14" fill="#333" text-anchor="middle">2012</text>
<text x="515.2" y="342.5" font-size="13.5" fill="#333" textLength="25" lengthAdjust="spacingAndGlyphs">TIME</text>
<text x="547" y="342.5" font-size="13.5" fill="#333" textLength="41.8" lengthAdjust="spacingAndGlyphs">(years)</text>
<text transform="translate(14.2,317.6) rotate(-90)" font-size="8.5" fill="#333" stroke="#333" stroke-width="0.15" textLength="151" lengthAdjust="spacingAndGlyphs" xml:space="preserve">(http:/ /www.sidc.be, Jul  1, 2011)</text>
<text x="98.3" y="340.0" font-size="9.2" font-weight="bold" fill="#111" textLength="29.0" lengthAdjust="spacingAndGlyphs">June 21</text>
<text x="191.2" y="340.5" font-size="9.2" font-weight="bold" fill="#111" textLength="51.8" lengthAdjust="spacingAndGlyphs">November 23</text>
<text x="298.0" y="341.0" font-size="9.2" font-weight="bold" fill="#111" textLength="35.0" lengthAdjust="spacingAndGlyphs">March 29</text>
<text x="438.8" y="340.5" font-size="9.2" font-weight="bold" fill="#111" textLength="26.2" lengthAdjust="spacingAndGlyphs">July 22</text>
<text x="149.5" y="351.9" font-size="9.2" font-weight="bold" fill="#111" textLength="46.8" lengthAdjust="spacingAndGlyphs">December 4</text>
<text x="261.5" y="351.5" font-size="9.2" font-weight="bold" fill="#111" textLength="25.2" lengthAdjust="spacingAndGlyphs">April 8</text>
<text x="397.0" y="351.4" font-size="9.2" font-weight="bold" fill="#111" textLength="33.0" lengthAdjust="spacingAndGlyphs">August 1</text>
<text x="480.0" y="351.6" font-size="9.2" font-weight="bold" fill="#111" textLength="25.0" lengthAdjust="spacingAndGlyphs">July 11</text>
<text x="5.0" y="366.2" font-size="9.1" fill="#111" stroke="#111" stroke-width="0.25" textLength="128.8" lengthAdjust="spacingAndGlyphs" xml:space="preserve"><tspan font-style="italic">TRACE</tspan>: Apr. 2, 1998 - Jun. 21, 2010</text>
<text x="263.0" y="366.2" font-size="9.1" fill="#40a040" stroke="#40a040" stroke-width="0.25" textLength="63.2" lengthAdjust="spacingAndGlyphs" xml:space="preserve"><tspan font-style="italic">Hinode</tspan>: Sept.  22</text>
<text x="336.2" y="366.2" font-size="9.1" fill="#e03040" stroke="#e03040" stroke-width="0.25" textLength="58.8" lengthAdjust="spacingAndGlyphs" xml:space="preserve"><tspan font-style="italic">STEREO</tspan>: Oct. 26</text>
<text x="409.5" y="366.2" font-size="9.1" fill="#a040d0" stroke="#a040d0" stroke-width="0.25" textLength="56.2" lengthAdjust="spacingAndGlyphs" xml:space="preserve"><tspan font-style="italic">PROBA2: Nov. 2</tspan></text>
<text x="473.8" y="366.2" font-size="9.1" fill="#40a0d0" stroke="#40a0d0" stroke-width="0.25" textLength="46.2" lengthAdjust="spacingAndGlyphs" xml:space="preserve"><tspan font-style="italic">SDO</tspan>: Feb. 11</text>
</svg></body></html>
